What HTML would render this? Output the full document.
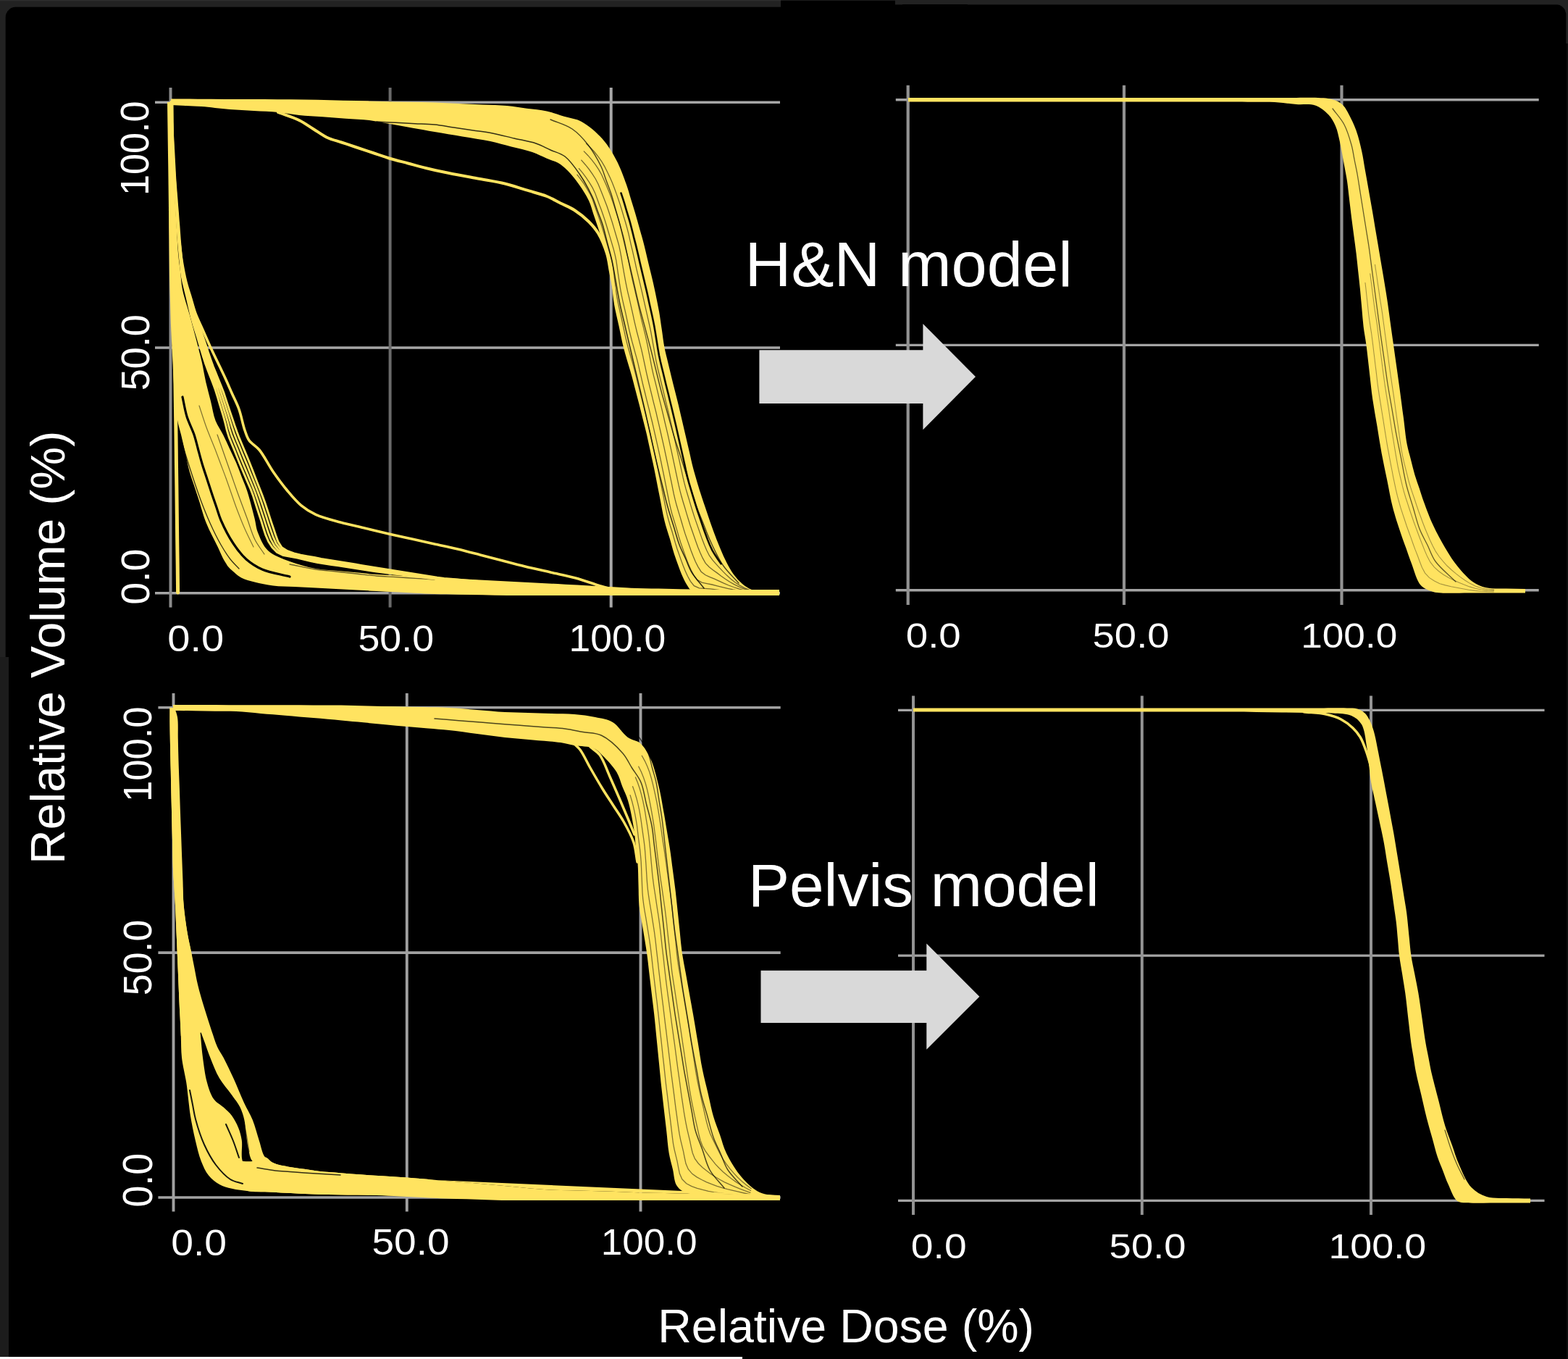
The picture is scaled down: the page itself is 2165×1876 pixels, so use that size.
<!DOCTYPE html>
<html><head><meta charset="utf-8"><title>DVH comparison</title>
<style>html,body{margin:0;padding:0;background:#000;overflow:hidden;}svg{display:block;}</style>
</head><body>
<svg width="2165" height="1876" viewBox="0 0 2165 1876">
<defs><filter id="soft" x="0" y="0" width="100%" height="100%" filterUnits="userSpaceOnUse"><feGaussianBlur stdDeviation="0.7"/></filter></defs>
<g filter="url(#soft)">
<rect x="0" y="0" width="2165" height="1876" fill="#000"/>
<rect x="0" y="0" width="1078" height="20" fill="#212121"/>
<rect x="0" y="0" width="20" height="908" fill="#212121"/>
<rect x="0" y="0" width="1078" height="1.5" fill="#2e2e2e"/>
<rect x="7.7" y="9.8" width="1200" height="1000" rx="14" fill="#000"/>
<rect x="0" y="907" width="12" height="966" fill="#1f1f1f"/>
<rect x="1236" y="0" width="929" height="20" fill="#212121"/>
<rect x="2145" y="0" width="20" height="60" fill="#212121"/>
<rect x="1078" y="0" width="158" height="1.2" fill="#1a1a1a"/>
<rect x="1236" y="6.3" width="926.3" height="200" rx="14" fill="#000"/>
<rect x="1236" y="6.3" width="100" height="200" fill="#000"/>
<rect x="2163" y="60" width="2" height="1816" fill="#101010"/>
<rect x="0" y="1873" width="1025" height="3" fill="#fff"/>
<line x1="214.0" y1="141.3" x2="1077.0" y2="141.3" stroke="#a6a6a6" stroke-width="3.4"/>
<line x1="214.0" y1="480.0" x2="1077.0" y2="480.0" stroke="#a6a6a6" stroke-width="3.4"/>
<line x1="214.0" y1="818.8" x2="1077.0" y2="818.8" stroke="#a6a6a6" stroke-width="3.4"/>
<line x1="235.5" y1="121.0" x2="235.5" y2="838.5" stroke="#8c8c8c" stroke-width="4.0"/>
<line x1="538.6" y1="121.0" x2="538.6" y2="838.5" stroke="#6a6a6a" stroke-width="4.0"/>
<line x1="843.7" y1="121.0" x2="843.7" y2="838.5" stroke="#a8a8a8" stroke-width="4.0"/>
<line x1="1236.8" y1="137.8" x2="2124.7" y2="137.8" stroke="#a4a4a4" stroke-width="3.4"/>
<line x1="1236.8" y1="476.4" x2="2124.7" y2="476.4" stroke="#a4a4a4" stroke-width="3.4"/>
<line x1="1236.8" y1="814.8" x2="2124.7" y2="814.8" stroke="#a4a4a4" stroke-width="3.4"/>
<line x1="1253.7" y1="117.7" x2="1253.7" y2="835.0" stroke="#929292" stroke-width="4.2"/>
<line x1="1552.0" y1="117.7" x2="1552.0" y2="835.0" stroke="#929292" stroke-width="4.2"/>
<line x1="1852.5" y1="117.7" x2="1852.5" y2="835.0" stroke="#929292" stroke-width="4.2"/>
<line x1="218.4" y1="976.8" x2="1077.7" y2="976.8" stroke="#a2a2a2" stroke-width="3.6"/>
<line x1="218.4" y1="1315.1" x2="1077.7" y2="1315.1" stroke="#a2a2a2" stroke-width="3.6"/>
<line x1="218.4" y1="1653.0" x2="1077.7" y2="1653.0" stroke="#a2a2a2" stroke-width="3.6"/>
<line x1="239.5" y1="957.0" x2="239.5" y2="1672.5" stroke="#a0a0a0" stroke-width="3.9"/>
<line x1="561.8" y1="957.0" x2="561.8" y2="1672.5" stroke="#a0a0a0" stroke-width="3.9"/>
<line x1="884.5" y1="957.0" x2="884.5" y2="1672.5" stroke="#a0a0a0" stroke-width="3.9"/>
<line x1="1240.0" y1="980.4" x2="2132.5" y2="980.4" stroke="#a4a4a4" stroke-width="3.4"/>
<line x1="1240.0" y1="1319.1" x2="2132.5" y2="1319.1" stroke="#a4a4a4" stroke-width="3.4"/>
<line x1="1240.0" y1="1657.4" x2="2132.5" y2="1657.4" stroke="#a4a4a4" stroke-width="3.4"/>
<line x1="1261.0" y1="960.6" x2="1261.0" y2="1677.0" stroke="#939393" stroke-width="4.0"/>
<line x1="1576.8" y1="960.6" x2="1576.8" y2="1677.0" stroke="#939393" stroke-width="4.0"/>
<line x1="1893.0" y1="960.6" x2="1893.0" y2="1677.0" stroke="#939393" stroke-width="4.0"/>
<text transform="translate(205.46,269.97) rotate(-90) scale(0.9341,1)" font-size="55.79" font-family="'Liberation Sans', sans-serif" fill="#fff">100.0</text>
<text transform="translate(205.75,539.36) rotate(-90) scale(0.9579,1)" font-size="56.36" font-family="'Liberation Sans', sans-serif" fill="#fff">50.0</text>
<text transform="translate(205.75,834.66) rotate(-90) scale(0.9832,1)" font-size="56.36" font-family="'Liberation Sans', sans-serif" fill="#fff">0.0</text>
<text transform="translate(231.31,898.50) scale(1.1018,1)" font-size="50.85" font-family="'Liberation Sans', sans-serif" fill="#fff">0.0</text>
<text transform="translate(494.45,898.50) scale(1.0575,1)" font-size="50.85" font-family="'Liberation Sans', sans-serif" fill="#fff">50.0</text>
<text transform="translate(785.53,899.00) scale(1.0368,1)" font-size="51.55" font-family="'Liberation Sans', sans-serif" fill="#fff">100.0</text>
<text transform="translate(1250.77,893.72) scale(1.1183,1)" font-size="48.87" font-family="'Liberation Sans', sans-serif" fill="#fff">0.0</text>
<text transform="translate(1508.62,893.72) scale(1.1134,1)" font-size="48.87" font-family="'Liberation Sans', sans-serif" fill="#fff">50.0</text>
<text transform="translate(1796.25,893.72) scale(1.0878,1)" font-size="48.87" font-family="'Liberation Sans', sans-serif" fill="#fff">100.0</text>
<text transform="translate(209.25,1107.00) rotate(-90) scale(0.9345,1)" font-size="56.21" font-family="'Liberation Sans', sans-serif" fill="#fff">100.0</text>
<text transform="translate(209.25,1374.15) rotate(-90) scale(0.9556,1)" font-size="56.21" font-family="'Liberation Sans', sans-serif" fill="#fff">50.0</text>
<text transform="translate(209.75,1666.50) rotate(-90) scale(0.9450,1)" font-size="56.78" font-family="'Liberation Sans', sans-serif" fill="#fff">0.0</text>
<text transform="translate(236.24,1732.71) scale(1.0928,1)" font-size="50.56" font-family="'Liberation Sans', sans-serif" fill="#fff">0.0</text>
<text transform="translate(513.50,1732.21) scale(1.0919,1)" font-size="50.42" font-family="'Liberation Sans', sans-serif" fill="#fff">50.0</text>
<text transform="translate(829.65,1732.21) scale(1.0542,1)" font-size="50.42" font-family="'Liberation Sans', sans-serif" fill="#fff">100.0</text>
<text transform="translate(1257.84,1736.72) scale(1.1340,1)" font-size="48.73" font-family="'Liberation Sans', sans-serif" fill="#fff">0.0</text>
<text transform="translate(1531.62,1736.72) scale(1.1167,1)" font-size="48.73" font-family="'Liberation Sans', sans-serif" fill="#fff">50.0</text>
<text transform="translate(1834.39,1736.72) scale(1.1064,1)" font-size="48.73" font-family="'Liberation Sans', sans-serif" fill="#fff">100.0</text>
<path d="M236,141C236.4,153.1 236.9,165.2 237.3,177.3C237.8,189.4 238.2,201.6 238.7,213.7C239.1,225.8 239.4,238.2 240,250C240.5,261.4 241.3,272.2 242,283.3C242.7,294.4 243.3,305.6 244,316.7C244.7,327.8 245.1,339.7 246,350C246.8,358.9 248,366.7 249,375C250,383.3 250.2,391.1 252,400C254.1,410.4 258.8,423.7 261.5,433.5C263.6,441 265.1,446.9 266.9,453.6C268.6,460.3 270.3,466.5 272.2,473.7C274.3,482 276.9,491.5 278.9,500.5C280.9,509.4 282.2,518.4 284.2,527.3C286.2,536.2 288.8,545.1 291,554C293.2,562.9 294.5,572.8 297.6,580.8C300.4,587.9 304.7,593.5 308,600C311.2,606.4 314,612.8 317,619.2C320,625.7 323.2,632 326,638.5C328.7,644.9 331,651.3 333.5,657.8C336,664.2 338.5,669.4 341,677C344.5,687.6 348.8,704.8 351.5,715.5C353.4,723.1 353.4,728.3 356,735C359.1,743 363.1,753.4 370,760C377.4,767.1 389.3,770.9 400,775C411.3,779.3 424.7,782.9 436,785C445.8,786.8 454.7,786.8 464,787.7C473.3,788.6 482.7,789.4 492,790.3C501.3,791.2 509.9,792.3 520,793C531.7,793.9 545.3,794.3 558,795C570.7,795.7 583.3,796.3 596,797C608.7,797.7 621.3,798.3 634,799C646.7,799.7 659.3,800.3 672,801C684.7,801.7 697.3,802.3 710,803C722.7,803.7 735.8,804.4 748,805C759.4,805.6 770,806.2 781,806.8C792,807.3 803,807.9 814,808.5C825,809.1 836,809.7 847,810.2C858,810.8 868.5,811.6 880,812C892.5,812.5 906.1,812.5 919.2,812.8C932.3,813.1 945.3,813.3 958.4,813.6C971.5,813.9 984.5,814.1 997.6,814.4C1010.7,814.7 1023.7,814.9 1036.8,815.2C1049.9,815.5 1062.9,815.7 1076,816L1076,822C1062.9,822 1049.9,822 1036.8,822C1023.7,822 1010.7,822 997.6,822C984.5,822 971.5,822 958.4,822C945.3,822 932.3,822 919.2,822C906.1,822 892.8,822 880,822C867.7,822 856,822 844,822C832,822 820,822 808,822C796,822 784,822 772,822C760,822 748,822 736,822C724,822 711.8,822.1 700,822C688.7,821.9 677.8,821.6 666.7,821.3C655.6,821.1 644.4,820.9 633.3,820.7C622.2,820.4 610.5,820.4 600,820C590.6,819.7 582.2,819.1 573.3,818.7C564.4,818.2 555.6,817.8 546.7,817.3C537.8,816.9 529,816.5 520,816C510.8,815.5 501.3,815 492,814.5C482.7,814 473.3,813.5 464,813C454.7,812.5 445.4,812 436,811.5C426.3,811 416.4,810.5 406.6,810C396.8,809.5 386.6,809.7 377.2,808.5C368.3,807.4 359.2,805.5 351.5,803.5C344.9,801.8 338.6,800.3 333.6,797.7C329.5,795.6 326.6,792.9 323.3,790C319.8,786.9 316.3,784.2 313,779.7C308.4,773.3 304.6,763.1 300.2,754C295.3,743.9 289.1,732.8 284.8,722C280.6,711.5 277.5,699.3 274.5,690C272.1,682.7 270.2,677 268.1,670.5C266,664 263.6,658 261.7,651C259.5,643.1 257.8,634 255.8,625.5C253.9,617 251.9,608 250,600C248.3,592.9 246.2,587.1 245,580C243.6,572.2 243.3,563.3 242.5,555C241.7,546.7 240.6,538.5 240,530C239.3,521.3 239.1,512.2 238.7,503.3C238.2,494.4 237.8,485.6 237.3,476.7C236.9,467.8 236.4,459.5 236,450C235.6,439.1 235.3,426.7 235,415C234.7,403.3 234.2,391.5 234,380C233.8,369 233.8,358.3 233.6,347.5C233.5,336.7 233.4,325.8 233.2,315C233.1,304.2 233,293.3 232.9,282.5C232.8,271.7 232.6,261.1 232.5,250C232.4,238.2 232.2,225.8 232,213.7C231.8,201.6 231.7,189.4 231.5,177.3C231.3,165.2 231.2,153.1 231,141Z" fill="#ffe360"/>
<path d="M252,548C254,557 255.3,566.3 258,575C260.7,583.6 265.3,592.1 268,600C270.3,607 271.7,613.3 273.5,620C275.3,626.7 277,633.4 279,640C281,646.7 283.3,653.3 285.5,660C287.7,666.7 289.8,673.4 292,680C294.1,686.4 296.3,692.7 298.5,699C300.7,705.3 302,711 305,718C309.1,727.4 315.7,740.6 322,750C327.5,758.3 333.2,765.9 340,772C346.6,777.8 353.3,782.2 362,786C372.6,790.7 387.3,792.7 400,796" fill="none" stroke="#000" stroke-width="3.20" stroke-linejoin="round" stroke-linecap="round" stroke-opacity="1.00"/>
<path d="M246,590C248.7,600 251,609.6 254,620C257.3,631.3 261.2,643.4 265,655C268.8,666.7 272.8,678.7 277,690C281.1,701 285.3,711.6 290,722C294.6,732.3 299.9,743.1 305,752C309.3,759.5 313.5,766.2 318,772C321.9,777 326,780.7 330,785" fill="none" stroke="#000" stroke-width="1.30" stroke-linejoin="round" stroke-linecap="round" stroke-opacity="0.80"/>
<path d="M243,600C245.3,610.7 247.2,621.3 250,632C252.9,643 256.4,653.9 260,665C263.7,676.5 267.5,688.4 272,700C276.5,711.8 281.9,724.2 287,735C291.6,744.7 296.3,754 301,762C305,768.7 309,774 313,780" fill="none" stroke="#000" stroke-width="1.20" stroke-linejoin="round" stroke-linecap="round" stroke-opacity="0.60"/>
<path d="M275,560C278.3,570 281.4,580.1 285,590C288.7,600.1 293.5,611 297,620C299.8,627.3 302,633.3 304.5,640C307,646.7 309.6,653.3 312,660C314.4,666.7 316.7,673.3 319,680C321.3,686.7 323.3,692.7 326,700C329.4,709 333.8,720.5 338,730C341.9,738.8 346,746.7 350,755" fill="none" stroke="#000" stroke-width="1.20" stroke-linejoin="round" stroke-linecap="round" stroke-opacity="0.50"/>
<path d="M300,600C302.3,606.7 304.7,613.3 307,620C309.3,626.7 311.7,633.3 314,640C316.3,646.7 318.7,653.3 321,660C323.3,666.7 325.3,672.4 328,680C331.6,690.1 336.9,703.8 341,715C344.8,725.4 347.6,736.2 352,745C355.8,752.6 360.7,758.3 365,765" fill="none" stroke="#000" stroke-width="1.20" stroke-linejoin="round" stroke-linecap="round" stroke-opacity="0.55"/>
<path d="M400,779C412,781.3 424.7,784.3 436,786C445.9,787.5 454.7,788 464,789C473.3,790 482.7,791 492,792C501.3,793 510.8,794.2 520,795C529,795.8 537.8,796.1 546.7,796.7C555.6,797.2 564.4,797.8 573.3,798.3C582.2,798.9 591.1,799.4 600,800" fill="none" stroke="#000" stroke-width="1.30" stroke-linejoin="round" stroke-linecap="round" stroke-opacity="0.60"/>
<path d="M236,141 L236.4,150.6 L236.9,160.3 L237.3,169.9 L237.8,179.5 L238.2,189.2 L238.7,198.8 L239.1,208.4 L239.5,218.1 L239.9,227.7 L240.4,237.3 L240.8,247 L241.4,256.6 L242,266.2 L242.7,275.8 L243.4,285.4 L244,295.1 L244.6,304.7 L245.3,314.3 L245.9,323.9 L246.5,333.6 L247.3,343.2 L248.2,352.8 L249.2,362.4 L250,372 L251.3,381.5 L253.3,391 L255.6,400.3 L257.9,409.7 L260.1,419.1 L262.2,428.5 L264.4,437.9 L267,447.2 L269.8,456.4 L272.7,465.6 L275.4,474.8 L278.1,484.1 L280.9,493.3 L283.9,502.5 L287.2,511.5 L290.7,520.5 L294.2,529.5 L297.5,538.6 L300.4,547.8 L303.1,557 L305.9,566.3 L308.7,575.5 L311.2,584.8 L313.4,594.2 L316.2,603.4 L319.8,612.3 L323.5,621.2 L327.1,630.2 L330.7,639.2 L334.4,648 L338.2,656.9 L342,665.8 L345.9,674.6 L349.3,683.6 L352.2,692.8 L355.1,702 L358.1,711.2 L361.1,720.3 L363.9,729.5 L366.9,738.7 L370.7,747.5 L376,755.6 L382.7,762.5 L391.4,766.6 L400.9,768.4 L410.4,770 L419.7,772.3 L429.1,774.5 L438.6,776.5 L448.1,778 L457.6,779.4 L467.2,780.8 L476.7,782.3 L486.2,783.8 L495.7,785.3 L505.3,786.8 L514.8,788.2 L524.3,789.6 L533.9,790.8 L543.5,791.9 L553.1,793.1 L562.6,794.3 L572.2,795.5 L581.8,796.6 L591.3,797.9 L600.9,799.1 L610.5,800.2 L620.1,801.1 L629.7,801.9 L639.3,802.7 L648.9,803.5 L658.5,804.4 L668.1,805.2 L677.7,806.1 L687.3,807 L696.9,807.8 L706.6,808.4 L716.2,808.7 L725.8,809.1 L735.5,809.4 L745.1,809.8 L754.7,810.1 L764.4,810.5 L774,810.9 L783.6,811.3 L793.3,811.6 L802.9,812 L812.6,812.4 L822.2,812.8 L831.8,813.1 L841.5,813.5 L851.1,813.9 L860.7,814.3 L870.4,814.6 L880,815 M236,141 L236.5,150.6 L236.9,160.2 L237.4,169.8 L237.9,179.4 L238.3,189 L238.8,198.6 L239.3,208.2 L239.8,217.8 L240.2,227.4 L240.6,237 L241.1,246.6 L241.7,256.2 L242.4,265.8 L243.1,275.4 L243.8,285 L244.5,294.5 L245.1,304.1 L245.8,313.7 L246.4,323.3 L247.1,332.9 L247.9,342.5 L248.8,352 L249.8,361.6 L250.6,371.2 L251.8,380.7 L253.9,390.1 L256.5,399.3 L259.1,408.6 L261.4,417.9 L263.8,427.2 L266.3,436.5 L269,445.7 L271.8,454.9 L274.8,464 L277.6,473.2 L280.4,482.4 L283.2,491.6 L286.2,500.7 L289.6,509.7 L293.1,518.7 L296.6,527.6 L300.1,536.6 L303.1,545.7 L306,554.9 L308.8,564 L311.7,573.2 L314.4,582.4 L316.8,591.7 L319.7,600.9 L323.3,609.8 L327,618.7 L330.6,627.6 L334.2,636.5 L337.9,645.4 L341.6,654.2 L345.3,663.1 L349,672 L352.5,680.9 L355.6,690 L358.6,699.1 L361.6,708.3 L364.6,717.4 L367.5,726.6 L370.5,735.7 L374,744.6 L378.6,753 L384.8,760.2 L393.3,764.6 L402.6,766.9 L412,768.7 L421.4,770.8 L430.8,772.9 L440.2,774.8 L449.7,776.3 L459.2,777.7 L468.7,779.2 L478.2,780.7 L487.7,782.2 L497.2,783.7 L506.6,785.3 L516.1,786.8 L525.6,788.2 L535.2,789.5 L544.7,790.7 L554.2,792 L563.7,793.3 L573.3,794.5 L582.8,795.8 L592.3,797.2 L601.8,798.5 L611.4,799.6 L620.9,800.5 L630.5,801.3 L640.1,802.1 L649.7,802.9 L659.3,803.8 L668.8,804.6 L678.4,805.5 L688,806.4 L697.5,807.2 L707.1,807.7 L716.7,808.1 L726.3,808.5 L736,808.8 L745.6,809.2 L755.2,809.6 L764.8,810 L774.4,810.4 L784,810.8 L793.6,811.1 L803.2,811.5 L812.8,811.9 L822.4,812.3 L832,812.7 L841.6,813.1 L851.2,813.5 L860.8,813.9 L870.4,814.3 L880,814.7 M236,141 L236.5,150.6 L237,160.1 L237.5,169.7 L238,179.3 L238.5,188.8 L239,198.4 L239.5,208 L240,217.5 L240.4,227.1 L240.9,236.7 L241.4,246.2 L242.1,255.8 L242.8,265.3 L243.5,274.9 L244.2,284.5 L244.9,294 L245.6,303.6 L246.3,313.1 L247,322.7 L247.7,332.2 L248.5,341.8 L249.4,351.3 L250.4,360.8 L251.1,370.4 L252.3,379.9 L254.6,389.2 L257.3,398.3 L260.2,407.5 L262.8,416.7 L265.5,425.9 L268.1,435.1 L270.9,444.2 L273.9,453.4 L276.9,462.5 L279.8,471.6 L282.7,480.7 L285.6,489.8 L288.6,498.9 L292,507.9 L295.5,516.8 L299.1,525.7 L302.6,534.6 L305.8,543.6 L308.8,552.7 L311.7,561.8 L314.7,571 L317.5,580.1 L320.3,589.3 L323.3,598.3 L326.8,607.3 L330.5,616.1 L334.1,625 L337.8,633.8 L341.5,642.7 L345,651.5 L348.6,660.4 L352.2,669.3 L355.7,678.2 L359,687.2 L362.1,696.3 L365.1,705.4 L368.1,714.5 L371,723.6 L374.1,732.7 L377.3,741.7 L381.2,750.3 L386.9,757.9 L395.2,762.7 L404.3,765.5 L413.6,767.4 L423,769.4 L432.4,771.3 L441.8,773.1 L451.3,774.6 L460.7,776.1 L470.2,777.6 L479.7,779.1 L489.1,780.7 L498.6,782.2 L508,783.8 L517.5,785.3 L526.9,786.7 L536.4,788.1 L545.9,789.5 L555.4,790.9 L564.9,792.2 L574.3,793.6 L583.8,795 L593.3,796.5 L602.8,797.9 L612.3,799 L621.8,799.9 L631.4,800.7 L640.9,801.5 L650.4,802.3 L660,803.1 L669.5,804 L679.1,804.9 L688.6,805.8 L698.2,806.5 L707.7,807.1 L717.3,807.5 L726.9,807.9 L736.4,808.2 L746,808.6 L755.6,809 L765.1,809.4 L774.7,809.9 L784.3,810.3 L793.9,810.7 L803.4,811.1 L813,811.5 L822.6,811.9 L832.1,812.3 L841.7,812.7 L851.3,813.1 L860.9,813.5 L870.4,813.9 L880,814.3 M236,141 L236.5,150.5 L237,160.1 L237.6,169.6 L238.1,179.1 L238.6,188.7 L239.1,198.2 L239.7,207.7 L240.2,217.3 L240.7,226.8 L241.2,236.3 L241.7,245.9 L242.4,255.4 L243.1,264.9 L243.9,274.4 L244.6,284 L245.4,293.5 L246.1,303 L246.9,312.5 L247.6,322 L248.3,331.6 L249.1,341.1 L250,350.6 L251,360.1 L251.7,369.6 L252.8,379.1 L255.2,388.3 L258.2,397.4 L261.3,406.4 L264.2,415.5 L267.1,424.6 L270,433.7 L272.9,442.8 L275.9,451.8 L278.9,460.9 L282,469.9 L285,479 L287.9,488.1 L291,497.1 L294.3,506.1 L297.9,514.9 L301.5,523.8 L305.1,532.6 L308.6,541.5 L311.6,550.6 L314.6,559.6 L317.6,568.7 L320.7,577.7 L323.7,586.8 L326.9,595.8 L330.3,604.7 L334,613.5 L337.7,622.3 L341.4,631.1 L345,640 L348.5,648.9 L351.9,657.8 L355.4,666.7 L358.9,675.6 L362.3,684.4 L365.6,693.4 L368.6,702.5 L371.6,711.6 L374.5,720.6 L377.6,729.7 L380.6,738.7 L383.9,747.7 L389,755.7 L397,760.7 L406,764 L415.3,766.2 L424.7,767.9 L434.1,769.6 L443.5,771.4 L452.9,772.9 L462.3,774.4 L471.7,776 L481.2,777.5 L490.6,779.1 L500,780.7 L509.4,782.3 L518.8,783.8 L528.3,785.3 L537.7,786.8 L547.1,788.3 L556.5,789.7 L566,791.2 L575.4,792.7 L584.8,794.2 L594.3,795.8 L603.7,797.3 L613.2,798.5 L622.7,799.3 L632.2,800.1 L641.7,800.9 L651.2,801.7 L660.7,802.5 L670.2,803.4 L679.7,804.3 L689.3,805.2 L698.8,805.9 L708.3,806.5 L717.8,806.9 L727.4,807.2 L736.9,807.6 L746.5,808.1 L756,808.5 L765.5,808.9 L775.1,809.3 L784.6,809.8 L794.2,810.2 L803.7,810.6 L813.2,811 L822.8,811.5 L832.3,811.9 L841.8,812.3 L851.4,812.7 L860.9,813.2 L870.5,813.6 L880,814" fill="none" stroke="#ffe360" stroke-width="3.00" stroke-linejoin="round" stroke-linecap="round"/>
<path d="M236,141C236.4,150.2 236.8,159.4 237.2,168.7C237.6,177.9 237.9,187.1 238.3,196.3C238.7,205.6 239,214.4 239.5,224C240.1,234.3 240.9,245.3 241.7,256C242.4,266.7 243.1,277.3 243.8,288C244.6,298.7 245.1,310.6 246,320C246.7,327.5 247.7,333.3 248.5,340C249.3,346.7 249.8,352.7 251,360C252.5,369 254.7,380.9 257,390C259,397.8 261.3,404.3 263.5,411.5C265.7,418.7 267.3,425.8 270,433C272.8,440.5 276.7,448 280,455.5C283.3,463 286.6,470.6 290,478C293.4,485.4 297,492.7 300.5,500C304,507.3 307.6,514.7 311,522C314.3,529.2 317.3,536.3 320.5,543.5C323.7,550.7 327.2,557.2 330,565C333.2,573.8 335.2,586.1 338,594C340,599.6 341,603.7 344,608C347.4,612.8 353.3,615.4 358,621C364.4,628.6 370.4,641.5 377,651C383.3,660.1 389.8,669 396.5,677C402.7,684.4 408.8,691.9 415.7,697.6C422.1,702.9 428.1,706.7 436,710.4C445.6,714.8 458.6,717.9 470,721C481.4,724.1 493,726.5 504.5,729.2C516,732 527.8,734.9 539,737.5C549.6,739.9 559.7,742.1 570,744.3C580.3,746.6 590.7,748.9 601,751.2C611.3,753.4 621.7,755.5 632,758C642.4,760.5 652.7,763.3 663,766C673.3,768.7 683.7,771.3 694,774C704.3,776.7 714.3,779.4 725,782C736.3,784.7 748.3,787.3 760,790C771.7,792.7 783.5,794.8 795,798C806.5,801.2 819.7,806.3 829,809C835.3,810.8 838.6,811.9 845,813C854.4,814.6 868.3,815 880,816" fill="none" stroke="#ffe360" stroke-width="3.60" stroke-linejoin="round" stroke-linecap="round"/>
<path d="M237,141C237.1,153.3 237.3,165.7 237.4,178C237.6,190.3 237.7,202.7 237.9,215C238,227.3 238.1,239.7 238.3,252C238.4,264.3 238.6,276.7 238.7,289C238.9,301.3 239,313.7 239.1,326C239.3,338.3 239.4,350.7 239.6,363C239.7,375.3 239.8,388 240,400C240.2,411.4 240.3,422.2 240.5,433.3C240.7,444.4 240.8,455.6 241,466.7C241.2,477.8 241.3,488.9 241.5,500C241.7,511.1 241.8,522.2 242,533.3C242.2,544.4 242.3,555.6 242.5,566.7C242.7,577.8 242.8,588.6 243,600C243.2,611.9 243.3,624.2 243.4,636.3C243.6,648.4 243.7,660.6 243.9,672.7C244,684.8 244.2,696.9 244.3,709C244.4,721.1 244.6,733.2 244.7,745.3C244.9,757.4 245,769.6 245.2,781.7C245.3,793.8 245.5,805.9 245.6,818" fill="none" stroke="#ffe360" stroke-width="5.00" stroke-linejoin="round" stroke-linecap="round"/>
<path d="M236,136.5C248.3,136.6 260.5,136.6 272.8,136.7C285.1,136.8 297.3,136.8 309.6,136.9C321.9,137 334.1,137 346.4,137.1C358.7,137.2 370.9,137.2 383.2,137.3C395.5,137.4 407.8,137.3 420,137.5C432.1,137.7 444,138 456,138.3C468,138.6 480,138.8 492,139.1C504,139.4 516,139.6 528,139.9C540,140.2 552,140.4 564,140.7C576,141 588.2,141.1 600,141.5C611.3,141.9 622.2,142.5 633.3,143C644.4,143.5 655.6,144 666.7,144.5C677.8,145 689.4,145 700,146C709.6,146.9 718.3,148.5 727.5,149.8C736.7,151 746.2,151.6 755,153.5C763.3,155.3 771,158.3 779,160.8C787,163.2 795,163.7 803,168C812.7,173.2 823.9,182.9 832,192C839.8,200.7 845.6,210.7 851,221C856.6,231.6 861.5,245.2 865,255C867.6,262.3 869,268 871,274.5C873,281 875.1,287.5 877,294C878.9,300.5 880.7,307 882.5,313.5C884.3,320 886.1,325.8 888,333C890.3,341.7 892.7,352.3 895,362C897.3,371.7 899.7,380.6 902,391C904.7,403 907.9,418.4 910,430C911.6,439.2 912.5,446.7 913.8,455C915,463.3 916,472.2 917.5,480C918.9,487.1 920.7,493.3 922.2,500C923.8,506.7 925.4,513.3 927,520C928.6,526.7 930.3,533.3 932,540C933.7,546.7 935.4,553.2 937,560C938.7,567 940.3,574.3 942,581.5C943.7,588.7 945.3,595.8 947,603C948.7,610.2 950.3,617.3 952,624.5C953.7,631.7 954.9,638 957,646C959.7,656.1 963.7,669.3 967,680C970,689.5 973,698.1 976,707C979,715.8 981.9,724.6 985,733C987.9,740.9 990.9,748.6 994,756C996.9,762.9 999.7,769.7 1003,776C1006.1,782 1009.2,787.9 1013,793C1016.6,797.8 1020.7,802.4 1025,806C1029,809.3 1033.2,812.2 1038,814C1043.1,815.9 1049,816.4 1055,817C1061.6,817.7 1069,817.3 1076,817.5L1076,818.5C1063.3,818.5 1050.7,818.5 1038,818.5C1025.3,818.5 1010.9,818.7 1000,818.5C991.8,818.4 985.7,818 978.5,817.8C971.3,817.5 962.4,819.6 957,817C952.4,814.7 950.3,810.4 947,805C941.8,796.3 935.9,779.2 932,768C928.9,759.1 927.2,751.7 924.8,743.5C922.3,735.3 919.7,728 917.5,719C914.8,708.1 912.7,694.7 910.2,682.5C907.8,670.3 905.2,656.8 903,646C901.2,637.4 899.7,630.7 898,623C896.3,615.3 894.7,607.4 893,600C891.4,593.1 889.7,586.7 888,580C886.3,573.3 884.7,566.7 883,560C881.2,553.1 879.3,546 877.5,539C875.7,532 874.2,526 872,518C869,507.2 864,492 861,480C858.3,469.5 856.7,460 854.5,450C852.3,440 849.6,429.5 848,420C846.6,411.5 846,403.7 845,395.5C844,387.3 843.8,379.9 842,371C839.8,360.1 835,345.2 832,335C829.8,327.3 828.1,321.6 826,315C823.9,308.6 821.7,302.3 819.5,296C817.3,289.7 816.3,283.9 813,277C808.5,267.7 800.1,254.8 793,246C787,238.5 780.8,231.7 774,227C767.9,222.8 761,221.3 754.5,218.5C748,215.7 742.3,212.5 735,210C726.4,207 715.7,205 706,202.5C696.3,200 687.4,197.2 677,195C665.1,192.5 651.3,190.7 638.5,188.5C625.7,186.3 612,184.1 600,182C589.4,180.2 580,178.4 570,176.7C560,174.9 550,173.1 540,171.3C530,169.6 520.2,167.3 510,166C499.5,164.7 488.4,164.4 477.7,163.7C466.9,162.9 456.1,162.1 445.3,161.3C434.6,160.6 423.5,160.1 413,159C403.1,158 394,156 384,155C373.3,153.9 361.7,153.7 350.5,153C339.3,152.3 328.6,151.9 317,151C304.5,150 289,147.8 278,147C269.9,146.4 264,146.3 257,146C250,145.7 243,145.3 236,145Z" fill="#ffe360"/>
<path d="M809.4,198.1 L815.2,203.8 L820.8,209.8 L825.9,216.1 L830.7,222.8 L834.8,229.9 L838.5,237.2 L842,244.6 L845.3,252.1 L848.3,259.7 L851.1,267.4 L853.8,275.1 L856.4,282.9 L858.8,290.8 L861.1,298.6 L863.5,306.5 L865.7,314.4 L867.8,322.3 L869.6,330.3 L871.4,338.3 L873.3,346.2 L875.1,354.2 L876.9,362.2 L878.6,370.2 L880.5,378.2 L882.4,386.2 L884.3,394.2 L886.2,402.2 L888,410.2 L889.8,418.2 L891.6,426.2 L893.4,434.2 L895.2,442.2 L897,450.2 L898.7,458.2 L900.2,466.3 L901.6,474.3 L903.1,482.4 L904.5,490.5 L906,498.5 L907.7,506.6 L909.6,514.5 L911.6,522.5 L913.5,530.5 L915.5,538.5 L917.4,546.4 L919.3,554.4 L921.3,562.4 L923.2,570.4 L925.1,578.3 L927,586.3 L928.8,594.3 L930.6,602.3 L932.4,610.4 L934.1,618.4 L935.9,626.4 L937.7,634.4 L939.4,642.4 L941.2,650.4 L942.9,658.4 L944.8,666.4 L946.9,674.4 L949.2,682.2 L951.6,690.1 L953.9,698 L956.3,705.8 L958.8,713.6 L961.5,721.4 L964.2,729.1 L966.9,736.9 L969.6,744.6 L972.6,752.3 L975.8,759.8 L979.4,767 L983.9,773.2 L988.5,778.4 L993.3,783.6 L998.2,788.9 L1003.4,794.1 L1008.8,799.1 L1014.8,803.7 L1021.1,807.9 L1028,811.6 L1035.4,814.6 M806.3,208.9 L811.9,214.7 L817.2,220.9 L822.2,227.4 L826.7,234.2 L830.7,241.3 L834.1,248.7 L837.3,256.1 L840.5,263.7 L843.5,271.3 L846.2,279 L848.8,286.8 L851.3,294.6 L853.7,302.4 L856,310.3 L858.3,318.1 L860.6,326 L862.5,334 L864.1,342 L865.7,350 L867.4,357.9 L869,365.9 L870.6,374 L872.3,382 L874.1,390 L876,397.9 L877.8,405.9 L879.7,413.9 L881.5,421.9 L883.2,429.9 L885,437.9 L886.9,445.8 L888.9,453.8 L890.8,461.7 L892.6,469.7 L894.3,477.7 L895.8,485.7 L897.4,493.7 L898.9,501.8 L900.5,509.8 L902.3,517.8 L904.3,525.7 L906.3,533.7 L908.2,541.6 L910.1,549.6 L912.1,557.5 L914,565.5 L915.9,573.5 L917.7,581.5 L919.6,589.4 L921.5,597.4 L923.3,605.4 L925,613.4 L926.8,621.4 L928.5,629.4 L930.2,637.4 L931.9,645.4 L933.6,653.4 L935.3,661.4 L937,669.4 L938.9,677.4 L941,685.3 L943.3,693.2 L945.7,701 L948,708.9 L950.4,716.7 L952.8,724.5 L955.5,732.3 L958.2,740 L960.9,747.7 L963.7,755.4 L966.8,763 L970.2,770.4 L974.1,777.4 L979.2,782.8 L984.6,786.9 L990.1,790.9 L995.8,795.2 L1001.5,799.3 L1007.6,803.2 L1014,806.9 L1020.7,810.2 L1027.8,813.1 L1035.4,815.4 M802.8,221.1 L808.1,227.2 L813.2,233.5 L817.9,240.1 L822.3,247 L826,254.2 L829.1,261.7 L832.1,269.3 L835.1,276.9 L838,284.5 L840.6,292.2 L843.1,300 L845.6,307.8 L847.9,315.6 L850.2,323.5 L852.5,331.3 L854.7,339.2 L856.4,347.2 L857.9,355.2 L859.2,363.2 L860.6,371.2 L862,379.2 L863.5,387.3 L865.1,395.3 L866.8,403.3 L868.7,411.2 L870.5,419.2 L872.3,427.1 L874.1,435.1 L875.8,443.1 L877.7,451.1 L879.6,459 L881.7,466.9 L883.7,474.8 L885.7,482.7 L887.5,490.6 L889.2,498.6 L890.9,506.6 L892.6,514.6 L894.4,522.5 L896.3,530.5 L898.2,538.4 L900.2,546.3 L902.1,554.3 L904.1,562.2 L906.1,570.1 L907.9,578.1 L909.8,586.1 L911.6,594 L913.4,602 L915.2,609.9 L917,617.9 L918.7,625.9 L920.4,633.9 L922.1,641.9 L923.8,649.9 L925.4,657.9 L927.1,665.9 L928.7,673.9 L930.3,681.9 L932.2,689.9 L934.3,697.8 L936.6,705.6 L939,713.4 L941.3,721.2 L943.6,729.1 L946,736.9 L948.7,744.6 L951.4,752.3 L954.1,760 L957,767.6 L960.2,775.2 L963.8,782.4 L968.1,789.2 L974,793.8 L980.2,796.6 L986.5,799.2 L992.9,802.2 L999.4,805.2 L1006.1,808 L1013,810.5 L1020.2,812.8 L1027.7,814.8 L1035.4,816.4 M799.4,232.6 L804.6,238.8 L809.4,245.4 L813.9,252.1 L818.1,259.1 L821.6,266.4 L824.4,274 L827.2,281.7 L830.1,289.3 L832.8,297 L835.4,304.7 L837.8,312.5 L840.1,320.3 L842.5,328.1 L844.8,335.9 L847.1,343.7 L849.1,351.6 L850.8,359.6 L852,367.6 L853.1,375.7 L854.3,383.7 L855.5,391.8 L856.8,399.8 L858.3,407.8 L860,415.8 L861.8,423.7 L863.7,431.7 L865.4,439.6 L867.1,447.6 L868.8,455.6 L870.7,463.5 L872.7,471.4 L874.9,479.2 L877,487.1 L879.2,494.9 L881.2,502.8 L883,510.8 L884.9,518.7 L886.7,526.6 L888.6,534.5 L890.6,542.5 L892.5,550.4 L894.5,558.3 L896.5,566.2 L898.4,574.1 L900.4,582 L902.2,589.9 L904,597.9 L905.8,605.9 L907.6,613.8 L909.4,621.8 L911.1,629.7 L912.8,637.7 L914.4,645.7 L916.1,653.7 L917.7,661.7 L919.3,669.6 L920.9,677.6 L922.5,685.6 L924.1,693.6 L925.9,701.6 L927.9,709.5 L930.3,717.3 L932.7,725.1 L935,732.9 L937.2,740.7 L939.6,748.5 L942.3,756.2 L945,763.9 L947.8,771.6 L950.7,779.1 L954,786.6 L957.8,793.8 L962.5,800.3 L969.1,804.1 L976.1,805.6 L983.2,807 L990.3,808.9 L997.5,810.7 L1004.7,812.4 L1012.2,813.9 L1019.8,815.2 L1027.5,816.3 L1035.4,817.3 M796.9,241.2 L801.9,247.6 L806.6,254.2 L810.9,261.1 L815,268.1 L818.3,275.6 L820.9,283.3 L823.5,290.9 L826.3,298.6 L828.9,306.3 L831.4,314 L833.8,321.8 L836.1,329.6 L838.4,337.4 L840.7,345.2 L843,353 L845,360.9 L846.5,368.9 L847.6,376.9 L848.5,385 L849.6,393.1 L850.6,401.1 L851.7,409.2 L853.2,417.2 L854.9,425.2 L856.7,433.1 L858.5,441 L860.2,449 L861.9,456.9 L863.6,464.9 L865.5,472.8 L867.6,480.7 L869.8,488.5 L872.1,496.3 L874.3,504.1 L876.4,512 L878.4,519.9 L880.3,527.8 L882.3,535.7 L884.3,543.5 L886.3,551.4 L888.3,559.3 L890.2,567.2 L892.2,575.1 L894.2,583 L896.1,590.9 L898,598.8 L899.7,606.8 L901.4,614.7 L903.2,622.7 L905,630.6 L906.7,638.6 L908.3,646.5 L909.9,654.5 L911.5,662.5 L913.1,670.5 L914.7,678.5 L916.3,686.4 L917.8,694.4 L919.4,702.4 L921.1,710.4 L923.2,718.2 L925.5,726 L928,733.8 L930.2,741.6 L932.4,749.4 L934.8,757.2 L937.5,764.9 L940.2,772.6 L943,780.2 L946,787.8 L949.4,795.2 L953.3,802.3 L958.3,808.6 L965.4,811.8 L973,812.4 L980.6,812.9 L988.3,813.9 L996,814.9 L1003.7,815.8 L1011.5,816.5 L1019.4,817 L1027.4,817.5 L1035.4,817.9" fill="none" stroke="#000" stroke-width="1.30" stroke-opacity="0.55" stroke-linecap="round"/>
<path d="M857.5,266.6 L860.1,274.3 L862.5,282.2 L864.8,290.1 L867.2,298 L869.6,305.8 L871.7,313.8 L873.7,321.7 L875.6,329.7 L877.7,337.6 L879.6,345.6 L881.5,353.6 L883.3,361.6 L885.2,369.6 L887.1,377.6 L889,385.6 L890.9,393.6 L892.8,401.6 L894.6,409.6 L896.3,417.7 L898.1,425.7 L899.9,433.7 L901.6,441.7 L903.2,449.8 L904.6,457.9 L905.9,466 L907.2,474.1 L908.5,482.2 L909.9,490.3 L911.6,498.3 L913.5,506.3 L915.5,514.3 L917.4,522.3 L919.3,530.3 L921.3,538.3 L923.3,546.3 L925.2,554.2 L927.2,562.2 L929.1,570.2 L931,578.2 L932.9,586.2 L934.7,594.2 L936.5,602.3 L938.3,610.3 L940.1,618.3 L941.9,626.3 L943.7,634.3 L945.5,642.4 L947.2,650.4 L949.1,658.4 L951.2,666.3 L953.5,674.2 L955.9,682.1 L958.3,690 L960.7,697.8 L963.2,705.6 L965.9,713.4 L968.6,721.2 L971.2,729 L974,736.7 L976.8,744.4 L979.9,752 L983.3,759.4 L987.3,766.1 L991.4,772.2 L995.6,778.3" fill="none" stroke="#000" stroke-width="2.60" stroke-opacity="0.95" stroke-linecap="round"/>
<rect x="950" y="814" width="126" height="8" fill="#ffe360"/>
<path d="M520,168C528.9,168.4 537.8,168.9 546.7,169.3C555.6,169.8 564.4,170.2 573.3,170.7C582.2,171.1 591.1,171.1 600,172C608.9,172.9 617.8,174.7 626.7,176C635.6,177.3 644.4,178.7 653.3,180C662.2,181.3 670.9,182.3 680,184C689.7,185.9 700,188.7 710,191C720,193.3 731.1,195 740,198C747.5,200.5 753.3,204 760,207C766.7,210 773.8,211.3 780,216C787.4,221.6 793.9,231.1 800,240C806.6,249.6 813.6,262.6 818,272C821.2,279 822.7,284.7 825,291C827.3,297.3 829.9,303.2 832,310C834.4,317.7 836.3,326.7 838.5,335C840.7,343.3 843.1,351.2 845,360C847.1,369.5 848.7,380 850.5,390C852.3,400 853.9,410 856,420C858.1,430 860.7,440 863,450C865.3,460 867.7,470.3 870,480C872.2,489.2 874.2,497.8 876.3,506.7C878.4,515.6 880.6,524.4 882.7,533.3C884.8,542.2 886.9,551.1 889,560C891.1,568.9 893,577.8 895,586.7C897,595.6 899,604.4 901,613.3C903,622.2 904.8,630.9 907,640C909.3,649.7 912,660 914.5,670C917,680 919.3,690.4 922,700C924.5,709 927.3,717.3 930,726C932.7,734.7 935,744.1 938,752C940.6,758.9 943.7,764.7 946.5,771C949.3,777.3 951.2,783.7 955,790C959.4,797.3 966.3,804.7 972,812" fill="none" stroke="#000" stroke-width="1.50" stroke-linejoin="round" stroke-linecap="round" stroke-opacity="0.80"/>
<path d="M760,165C770,169.3 781.3,172.1 790,178C798.5,183.8 805.5,191.6 812,200C818.9,208.9 825.7,221 830,230C833.3,236.9 834.7,242.7 837,249C839.3,255.3 841.9,261.5 844,268C846.2,274.8 848,282 850,289C852,296 854.1,302.7 856,310C858.1,317.9 860,326.7 862,335C864,343.3 865.9,351.3 868,360C870.3,369.5 872.7,380 875,390C877.3,400 879.5,410 882,420C884.5,430 887.3,440 890,450C892.7,460 895.4,470 898,480C900.6,490 903,500 905.5,510C908,520 910.3,530 913,540C915.7,550 918.7,560 921.5,570C924.3,580 927.1,590.5 930,600C932.6,608.7 935.3,616.7 938,625C940.7,633.3 943.3,641.7 946,650C948.7,658.3 951.3,666.7 954,675C956.7,683.3 959.1,691.9 962,700C964.8,707.7 968,715 971,722.5C974,730 976.2,736.8 980,745C984.8,755.5 991,769.7 998,780C1004.5,789.5 1012.7,796.7 1020,805" fill="none" stroke="#000" stroke-width="1.40" stroke-linejoin="round" stroke-linecap="round" stroke-opacity="0.70"/>
<path d="M384,155C393.7,158.7 404.5,161.8 413,166C420.3,169.6 426,174 432.5,178C439,182 445.3,186.9 452,190C458.3,193 465,194.3 471.5,196.5C478,198.7 484.2,200.7 491,203C498.6,205.5 507,208.3 515,211C523,213.7 530.9,216.6 539,219C547.1,221.4 555.3,223.3 563.5,225.5C571.7,227.7 579.3,229.9 588,232C597.9,234.4 608.8,236.7 620,239C632.2,241.5 645.7,243.8 658.5,246.2C671.3,248.7 685.1,250.6 697,253.5C707.4,256 716.3,259.3 726,262.2C735.7,265.2 746.5,267.6 755,271C762.1,273.8 767.7,277.3 774,280.5C780.3,283.7 786.8,286 793,290C799.8,294.4 807.3,300.3 813,306C818.1,311.1 822.1,315.6 826,322C830.7,329.8 835.1,340.8 838,350C840.6,358.4 841.3,366.7 843,375C844.7,383.3 846.3,391.7 848,400" fill="none" stroke="#ffe360" stroke-width="4.00" stroke-linejoin="round" stroke-linecap="round"/>
<path d="M239,973C251.9,973 264.8,973.1 277.7,973.1C290.6,973.1 303.4,973.1 316.3,973.2C329.2,973.2 342.1,973.2 355,973.2C367.9,973.3 380.8,973.3 393.7,973.3C406.6,973.4 419.4,973.4 432.3,973.4C445.2,973.4 458.2,973.3 471,973.5C483.5,973.7 495.8,974.1 508.2,974.4C520.7,974.7 533.1,975 545.5,975.2C557.9,975.5 570.3,975.8 582.8,976.1C595.2,976.4 607.5,976.4 620,977C632.7,977.6 645.7,979 658.5,980C671.3,981 684.8,982.3 697,983C708.2,983.6 718.3,983.7 729,984C739.7,984.3 750.3,984.7 761,985C771.7,985.3 782.6,985.1 793,986C802.9,986.8 812.9,988 822,990C830.4,991.8 838.8,992.7 846,997C853.9,1001.7 859.9,1013 867,1018C872.6,1022 879.1,1021.8 884,1026C889.7,1030.9 894,1038.6 898,1047C903,1057.5 906.3,1072.2 909.5,1085C912.7,1097.8 914.9,1112.6 917,1124C918.6,1133 919.7,1140 921,1148C922.3,1156 923.7,1163.6 925,1172C926.4,1181.2 927.6,1191.3 928.9,1201C930.1,1210.7 931.6,1220.4 932.7,1230C933.8,1239.5 934.7,1248.9 935.7,1258.3C936.7,1267.8 937.7,1277.2 938.7,1286.7C939.7,1296.1 940.4,1305.6 941.7,1315C943.1,1324.5 945.1,1333.9 946.8,1343.3C948.5,1352.8 950.2,1362.2 951.9,1371.7C953.6,1381.1 955.2,1389.8 957,1400C959.1,1411.8 961.3,1425.7 963.5,1438.5C965.7,1451.3 967.5,1464.8 970,1477C972.3,1488.2 975,1498.3 977.5,1509C980,1519.7 982.1,1531 985,1541C987.7,1550.1 991,1558 994,1566.5C997,1575 998.7,1583.2 1003,1592C1008.1,1602.6 1015.9,1615.7 1024,1625C1031.4,1633.5 1039.8,1641.7 1049,1646C1057.6,1650 1067.7,1649.3 1077,1651L1077,1653C1066.2,1652.9 1055.4,1652.8 1044.7,1652.7C1033.9,1652.6 1023.1,1652.4 1012.3,1652.3C1001.6,1652.2 991,1653.1 980,1652C968.3,1650.8 952,1649 944,1645C939.2,1642.6 936.5,1640.2 934,1636C930.8,1630.6 930.6,1621.3 928.9,1614C927.1,1606.7 925.1,1599.9 923.7,1592C922.1,1582.8 921.4,1572 920.3,1562C919.1,1552 918,1542 916.8,1532C915.7,1522 914.5,1512.3 913.4,1502C912.2,1491 911.1,1479.3 910,1468C908.9,1456.7 907.7,1445.3 906.6,1434C905.5,1422.7 904.4,1410.8 903.2,1400C902.1,1390.1 900.9,1381.1 899.8,1371.7C898.7,1362.2 897.5,1352.8 896.4,1343.3C895.3,1333.9 894.4,1324.8 893,1315C891.5,1304.5 889.5,1293.3 887.8,1282.5C886.1,1271.7 883.6,1260.6 882.6,1250C881.6,1240.1 881.9,1230.7 881.5,1221C881.2,1211.3 881.2,1201.2 880.5,1192C879.9,1183.5 878.7,1175.7 877.8,1167.5C876.8,1159.3 876.5,1152 875,1143C873.2,1131.7 870.2,1115.5 867,1105C864.7,1097.3 861.8,1092 859.2,1085.5C856.7,1079 855.4,1072.5 851.5,1066C846.9,1058.3 838,1048.9 832,1043C827.7,1038.8 825.2,1035.3 820,1033C813.1,1029.9 801.2,1030.5 793,1029C786.1,1027.8 781.5,1026.1 774,1025C763.4,1023.4 748.3,1022.7 735.5,1021.5C722.7,1020.3 709.8,1019.4 697,1018C684.2,1016.6 671.3,1014.7 658.5,1013C645.7,1011.3 631.9,1009.3 620,1008C609.7,1006.9 600.7,1006.3 591,1005.5C581.3,1004.7 571.8,1003.9 562,1003C552,1002.1 541.9,1001.1 531.8,1000.2C521.8,999.2 511.7,998.3 501.7,997.3C491.6,996.4 482.2,995.5 471.5,994.5C459.4,993.4 445.7,992.2 432.8,991.1C419.8,990 406.5,988.8 394,987.7C382.3,986.7 371.3,985.8 360,984.9C348.7,983.9 336.9,982.5 326,982C316,981.5 306.7,981.8 297,981.7C287.3,981.6 277.7,981.4 268,981.3C258.3,981.2 248.7,981.1 239,981Z" fill="#ffe360"/>
<path d="M886.3,1043.3 L890.4,1050.6 L893.9,1058.2 L896.9,1066.1 L899.3,1074.2 L901.4,1082.4 L903.3,1090.6 L905.1,1098.8 L906.8,1107.1 L908.3,1115.4 L909.7,1123.7 L911,1132 L912.3,1140.4 L913.5,1148.7 L914.7,1157.1 L915.9,1165.4 L917.2,1173.7 L918.4,1182.1 L919.6,1190.4 L920.7,1198.8 L921.9,1207.2 L923,1215.5 L924.2,1223.9 L925.4,1232.2 L926.5,1240.6 L927.5,1249 L928.4,1257.4 L929.2,1265.8 L930.1,1274.2 L931,1282.6 L931.9,1291 L932.9,1299.4 L933.7,1307.8 L934.5,1316.2 L935.5,1324.6 L936.7,1332.9 L938.1,1341.2 L939.6,1349.5 L941,1357.9 L942.4,1366.2 L943.8,1374.5 L945.2,1382.8 L946.6,1391.1 L948,1399.5 L949.4,1407.8 L950.8,1416.1 L952.1,1424.5 L953.4,1432.8 L954.7,1441.1 L956.1,1449.5 L957.4,1457.8 L958.7,1466.1 L959.9,1474.5 L961.3,1482.8 L962.8,1491.1 L964.5,1499.4 L966.3,1507.6 L968.1,1515.9 L970,1524.1 L971.9,1532.3 L973.7,1540.6 L975.6,1548.8 L977.8,1556.9 L980.6,1564.9 L984.1,1572.4 L987.7,1579.6 L991.1,1586.8 L994.6,1593.8 L998.6,1600.6 L1003.1,1607.1 L1007.9,1613.3 L1013.1,1619.4 L1018.5,1625.2 L1024.4,1630.7 L1030.6,1635.9 L1037.2,1640.7 M881.8,1058.2 L885.5,1065.7 L888.6,1073.5 L891.3,1081.5 L893.5,1089.6 L895.4,1097.9 L897,1106.1 L898.6,1114.4 L900.1,1122.7 L901.5,1131.1 L902.8,1139.4 L903.9,1147.8 L905,1156.2 L906,1164.6 L906.9,1173 L907.9,1181.4 L908.9,1189.7 L910,1198.1 L911.1,1206.5 L912.3,1214.9 L913.6,1223.3 L914.8,1231.6 L916,1240 L917.2,1248.4 L918.4,1256.8 L919.4,1265.1 L920.4,1273.6 L921.3,1282 L922.2,1290.4 L923.1,1298.8 L924.1,1307.2 L925,1315.6 L925.9,1324 L926.8,1332.4 L927.7,1340.8 L928.9,1349.2 L930.2,1357.6 L931.5,1365.9 L932.8,1374.3 L934,1382.7 L935.3,1391 L936.6,1399.4 L937.8,1407.7 L939.1,1416.1 L940.4,1424.5 L941.6,1432.8 L942.8,1441.2 L944.1,1449.6 L945.3,1457.9 L946.5,1466.3 L947.8,1474.7 L949,1483 L950.2,1491.4 L951.5,1499.8 L952.8,1508.1 L954.3,1516.4 L955.9,1524.7 L957.6,1533 L959.4,1541.3 L961.2,1549.5 L963.1,1557.8 L964.9,1566 L967,1574.2 L970,1582.1 L974.1,1589.2 L978.7,1595.5 L983.3,1601.4 L987.9,1607.1 L993,1612.5 L998.4,1617.7 L1004.1,1622.6 L1010.1,1627.2 L1016.2,1631.6 L1022.7,1635.8 L1029.5,1639.8 L1036.5,1643.5 M877.4,1073 L880.6,1080.8 L883.3,1088.8 L885.6,1096.9 L887.6,1105.1 L889.3,1113.4 L890.8,1121.7 L892.1,1130.1 L893.5,1138.4 L894.8,1146.8 L895.9,1155.2 L896.8,1163.6 L897.7,1172 L898.4,1180.5 L899.1,1188.9 L899.9,1197.3 L900.6,1205.8 L901.6,1214.2 L902.7,1222.6 L904,1231 L905.3,1239.3 L906.5,1247.7 L907.8,1256.1 L909.1,1264.5 L910.3,1272.9 L911.4,1281.3 L912.4,1289.7 L913.3,1298.1 L914.2,1306.6 L915.2,1315 L916.2,1323.4 L917.1,1331.9 L918,1340.3 L919,1348.7 L920,1357.1 L921.1,1365.5 L922.2,1373.9 L923.4,1382.3 L924.5,1390.7 L925.7,1399.1 L926.8,1407.5 L927.9,1415.9 L929.1,1424.3 L930.2,1432.7 L931.4,1441.1 L932.5,1449.5 L933.6,1457.9 L934.7,1466.3 L935.8,1474.7 L937,1483.1 L938.2,1491.5 L939.3,1499.9 L940.4,1508.3 L941.6,1516.7 L942.9,1525.1 L944.1,1533.5 L945.5,1541.8 L947,1550.2 L948.7,1558.5 L950.6,1566.7 L952.6,1575 L954.3,1583.3 L956.2,1591.5 L959.4,1599.4 L964.2,1606 L969.8,1611.4 L975.5,1616.1 L981.3,1620.4 L987.4,1624.5 L993.8,1628.3 L1000.3,1631.8 L1007,1634.9 L1013.9,1637.9 L1021.1,1640.9 L1028.4,1643.7 L1035.9,1646.3 M873.6,1085.7 L876.4,1093.6 L878.8,1101.7 L880.9,1109.9 L882.7,1118.2 L884.2,1126.6 L885.5,1135 L886.6,1143.4 L887.8,1151.8 L889,1160.2 L890.1,1168.6 L890.8,1177 L891.4,1185.5 L892,1194 L892.5,1202.4 L893,1210.9 L893.6,1219.4 L894.4,1227.8 L895.5,1236.2 L896.8,1244.6 L898.2,1253 L899.6,1261.4 L900.9,1269.8 L902.2,1278.2 L903.5,1286.6 L904.6,1295 L905.6,1303.5 L906.5,1311.9 L907.5,1320.3 L908.5,1328.8 L909.4,1337.2 L910.4,1345.7 L911.4,1354.1 L912.4,1362.6 L913.4,1371 L914.4,1379.4 L915.5,1387.9 L916.5,1396.3 L917.5,1404.7 L918.5,1413.1 L919.6,1421.6 L920.6,1430 L921.6,1438.4 L922.7,1446.9 L923.7,1455.3 L924.7,1463.7 L925.7,1472.2 L926.7,1480.6 L927.8,1489 L928.9,1497.4 L930,1505.9 L931.1,1514.3 L932.1,1522.7 L933.2,1531.1 L934.4,1539.6 L935.5,1548 L936.7,1556.4 L938,1564.8 L939.6,1573.1 L941.6,1581.4 L943.6,1589.6 L945.2,1598 L947,1606.3 L950.3,1614 L955.7,1620.3 L962.1,1624.9 L968.8,1628.5 L975.6,1631.8 L982.6,1634.7 L989.8,1637.4 L997.1,1639.6 L1004.5,1641.6 L1012,1643.4 L1019.7,1645.2 L1027.4,1647 L1035.3,1648.7 M870.1,1097.6 L872.5,1105.7 L874.6,1113.9 L876.4,1122.2 L878,1130.6 L879.4,1139 L880.4,1147.4 L881.4,1155.9 L882.5,1164.3 L883.6,1172.7 L884.5,1181.2 L885.2,1189.7 L885.6,1198.2 L885.9,1206.7 L886.3,1215.2 L886.6,1223.7 L887,1232.2 L887.7,1240.6 L888.8,1249.1 L890.1,1257.5 L891.6,1265.9 L893,1274.3 L894.3,1282.7 L895.7,1291.1 L897,1299.5 L898.2,1307.9 L899.2,1316.4 L900.2,1324.8 L901.1,1333.3 L902.1,1341.8 L903.1,1350.2 L904.1,1358.7 L905.1,1367.1 L906.1,1375.6 L907.2,1384 L908.1,1392.5 L909.1,1400.9 L910,1409.4 L910.9,1417.9 L911.8,1426.3 L912.8,1434.8 L913.7,1443.2 L914.6,1451.7 L915.5,1460.2 L916.5,1468.6 L917.4,1477.1 L918.3,1485.5 L919.2,1494 L920.2,1502.5 L921.3,1510.9 L922.3,1519.4 L923.3,1527.8 L924.3,1536.3 L925.4,1544.7 L926.4,1553.2 L927.4,1561.6 L928.4,1570.1 L929.5,1578.5 L931.1,1586.8 L933.1,1595.1 L935.1,1603.4 L936.7,1611.8 L938.4,1620.1 L941.8,1627.8 L947.7,1633.7 L955,1637.6 L962.6,1640.3 L970.3,1642.4 L978.1,1644.3 L986,1645.9 L994,1647 L1002.1,1647.8 L1010.2,1648.5 L1018.3,1649.3 L1026.5,1650.1 L1034.8,1650.9" fill="none" stroke="#000" stroke-width="1.30" stroke-opacity="0.50" stroke-linecap="round"/>
<path d="M793,1027C795.7,1029.7 798.2,1031.3 801,1035C805.4,1040.8 810.1,1051.4 815,1060C820.3,1069.3 826.5,1080 832,1089C836.9,1097 841.7,1104 846.5,1111.5C851.3,1119 856.4,1125.9 861,1134C866,1142.9 871.8,1153.3 875,1163C877.9,1172 878.3,1181 880,1190" fill="none" stroke="#ffe360" stroke-width="3.50" stroke-linejoin="round" stroke-linecap="round"/>
<path d="M815,1031C819.3,1034.7 824.1,1036.9 828,1042C833.5,1049.2 837.4,1061.8 842,1072C846.7,1082.5 851.6,1093.9 856,1104C859.9,1113.1 863.5,1121.7 867,1130C870.2,1137.6 873,1144.7 876,1152" fill="none" stroke="#ffe360" stroke-width="3.50" stroke-linejoin="round" stroke-linecap="round"/>
<path d="M600,992C611.1,992.9 622.2,993.8 633.3,994.7C644.4,995.6 655.6,996.4 666.7,997.3C677.8,998.2 689.5,999.2 700,1000C709.4,1000.7 717.8,1001.3 726.7,1002C735.6,1002.7 744.4,1003.3 753.3,1004C762.2,1004.7 771.3,1004.9 780,1006C788.5,1007.1 796.7,1009 805,1010.5C813.3,1012 821.8,1011.2 830,1015C840.2,1019.7 852.6,1031.5 860,1040C865.7,1046.6 868.3,1053.3 872.5,1060C876.7,1066.7 881.8,1072.4 885,1080C888.7,1088.7 890,1100 892.5,1110C895,1120 898.2,1130.2 900,1140C901.7,1149.1 902.2,1157.8 903.3,1166.7C904.4,1175.6 905.6,1184.4 906.7,1193.3C907.8,1202.2 908.9,1210.7 910,1220C911.2,1230.1 912.2,1241.1 913.3,1251.7C914.4,1262.2 915.6,1272.8 916.7,1283.3C917.8,1293.9 918.7,1304.7 920,1315C921.2,1324.7 922.7,1333.9 924,1343.3C925.3,1352.8 926.7,1362.2 928,1371.7C929.3,1381.1 930.6,1390.7 932,1400C933.4,1409 934.9,1417.8 936.3,1426.7C937.8,1435.6 939.2,1444.4 940.7,1453.3C942.1,1462.2 943.4,1471.1 945,1480C946.6,1488.9 948.3,1497.8 950,1506.7C951.7,1515.6 953.3,1524.4 955,1533.3C956.7,1542.2 957.6,1551.1 960,1560C962.5,1569.2 966.7,1578.3 970,1587.5C973.3,1596.7 975.2,1606.4 980,1615C985,1624 993.3,1631.7 1000,1640" fill="none" stroke="#000" stroke-width="1.50" stroke-linejoin="round" stroke-linecap="round" stroke-opacity="0.70"/>
<path d="M860,1000C866.7,1005 874.3,1008.7 880,1015C886.1,1021.8 891.5,1031.9 895,1040C897.9,1046.8 898.7,1053.3 900.5,1060C902.3,1066.7 904.5,1072.9 906,1080C907.7,1087.8 908.7,1096.7 910,1105C911.3,1113.3 912.8,1121 914,1130C915.5,1140.7 916.7,1153.3 918,1165C919.3,1176.7 920.8,1189.1 922,1200C923.1,1209.5 924,1217.8 925,1226.7C926,1235.6 927,1244.4 928,1253.3C929,1262.2 929.9,1271.1 931,1280C932.1,1288.9 933.4,1297.8 934.7,1306.7C935.9,1315.6 937.1,1324.4 938.3,1333.3C939.6,1342.2 940.7,1351.1 942,1360C943.3,1368.9 944.9,1377.8 946.3,1386.7C947.8,1395.6 949.2,1404.4 950.7,1413.3C952.1,1422.2 953.3,1430.5 955,1440C956.9,1450.9 959.3,1463.3 961.5,1475C963.7,1486.7 965.4,1498.8 968,1510C970.4,1520.4 973.7,1530 976.5,1540C979.3,1550 981.7,1560.8 985,1570C987.9,1578.2 991.7,1585 995,1592.5C998.3,1600 1000.4,1607.8 1005,1615C1010.1,1623 1018.3,1630.3 1025,1638" fill="none" stroke="#000" stroke-width="1.40" stroke-linejoin="round" stroke-linecap="round" stroke-opacity="0.70"/>
<path d="M241,977C241.7,985.8 242.3,994.7 243,1003.5C243.7,1012.3 244.5,1020.5 245,1030C245.6,1040.9 245.8,1053.3 246.2,1065C246.7,1076.7 247.1,1088.5 247.5,1100C247.9,1111.2 248.2,1122.2 248.5,1133.3C248.8,1144.4 249.2,1155.6 249.5,1166.7C249.8,1177.8 250,1189.7 250.5,1200C250.9,1208.9 251.6,1216.7 252.1,1225C252.6,1233.3 252.8,1240.8 253.7,1250C254.8,1261.5 256.9,1277 258.8,1288.5C260.4,1297.9 262.6,1305.7 264,1314C265.3,1321.7 266,1329 267,1336.5C268,1344 269.2,1351.7 270,1359C270.8,1366 271.3,1372.7 272,1379.5C272.7,1386.3 273.3,1392.5 274,1400C274.9,1409.1 276,1420 277,1430C278,1440 278.6,1449.7 280,1460C281.5,1471 283,1483.9 285.8,1494C288.2,1502.6 290.7,1511 295,1517C298.6,1522.1 304.3,1524.7 308.6,1528.6C312.6,1532.3 316.7,1535.5 320,1540C323.6,1544.9 326.9,1551.2 329.2,1557C331.4,1562.5 332.8,1567.5 333.8,1574C335.1,1582.3 332.2,1595.8 335,1603C337,1608.3 339.9,1612 345,1615C352.7,1619.6 368.8,1620.1 380,1622C390.4,1623.7 400,1624.7 410,1626C420,1627.3 430.3,1629 440,1630C449.1,1631 457.8,1631.3 466.7,1632C475.6,1632.7 484.4,1633.3 493.3,1634C502.2,1634.7 510.4,1635.4 520,1636C531.1,1636.7 544,1637.1 556,1637.6C568,1638.1 580,1638.7 592,1639.2C604,1639.7 616,1640.3 628,1640.8C640,1641.3 652,1641.9 664,1642.4C676,1642.9 688.2,1643.6 700,1644C711.3,1644.4 722.2,1644.4 733.3,1644.7C744.4,1644.9 755.6,1645.1 766.7,1645.3C777.8,1645.6 788.9,1645.8 800,1646C811.1,1646.2 822.2,1646.4 833.3,1646.7C844.4,1646.9 855.6,1647.1 866.7,1647.3C877.8,1647.6 888.7,1647.8 900,1648C911.6,1648.2 923.6,1648.5 935.4,1648.8C947.2,1649.1 959,1649.3 970.8,1649.6C982.6,1649.9 994.4,1650.1 1006.2,1650.4C1018,1650.7 1029.8,1650.9 1041.6,1651.2C1053.4,1651.5 1065.2,1651.7 1077,1652L1077,1655C1065.2,1654.9 1053.4,1654.7 1041.6,1654.6C1029.8,1654.5 1018,1654.3 1006.2,1654.2C994.4,1654.1 982.6,1653.9 970.8,1653.8C959,1653.7 947.2,1653.5 935.4,1653.4C923.6,1653.3 911.6,1653.1 900,1653C888.7,1652.9 877.8,1652.9 866.7,1652.8C855.6,1652.8 844.4,1652.7 833.3,1652.7C822.2,1652.6 811.1,1652.6 800,1652.5C788.9,1652.4 777.8,1652.4 766.7,1652.3C755.6,1652.3 744.4,1652.2 733.3,1652.2C722.2,1652.1 711.3,1652.1 700,1652C688.2,1651.9 676,1651.7 664,1651.6C652,1651.5 640,1651.3 628,1651.2C616,1651.1 604,1650.9 592,1650.8C580,1650.7 568,1650.5 556,1650.4C544,1650.3 531.1,1650.1 520,1650C510.4,1649.9 502.2,1649.7 493.3,1649.6C484.4,1649.5 475.6,1649.3 466.7,1649.2C457.8,1649.1 448.8,1649.1 440,1648.8C431.4,1648.5 422.9,1648 414.4,1647.7C405.8,1647.3 397,1646.9 388.7,1646.5C380.9,1646.1 373.5,1645.7 365.9,1645.3C358.2,1645 350.6,1645 343,1644.2C335.3,1643.4 327,1642.5 320,1640.8C313.8,1639.3 308.2,1637.9 303,1635C297.5,1631.9 292.1,1627.6 288,1622.5C283.6,1617.1 280.7,1610.3 277.8,1603C274.4,1594.4 272.1,1584.1 269.7,1574C267.1,1563.2 264.6,1550.3 262.9,1540C261.5,1531.6 261,1524.7 260,1517C259.1,1509.3 258.5,1502.4 257.2,1494C255.6,1483.8 252.2,1471 251,1460C249.9,1449.7 250.2,1439.6 249.8,1430C249.4,1421 249,1412.7 248.6,1404C248.1,1395.3 247.7,1387.1 247.3,1378C246.9,1367.9 246.4,1356.7 246,1346C245.6,1335.3 245.1,1324.7 244.7,1314C244.3,1303.3 243.8,1292.7 243.3,1282C242.9,1271.3 242.5,1260 242,1250C241.5,1241.2 241,1233.3 240.5,1225C240,1216.7 239.4,1208.9 239,1200C238.6,1189.7 238.4,1177.8 238.2,1166.7C237.9,1155.6 237.6,1144.4 237.3,1133.3C237.1,1122.2 236.8,1111.2 236.5,1100C236.2,1088.5 236,1076.7 235.8,1065C235.5,1053.3 235.2,1041.2 235,1030C234.8,1019.6 234.6,1009.3 234.5,1000C234.4,991.8 234.5,984.7 234.5,977Z" fill="#ffe360"/>
<path d="M292.2,1423C294.8,1430.3 297,1438.5 300,1445C302.6,1450.6 305.5,1454.1 308.6,1460C312.8,1467.9 317.8,1478.6 322.4,1488.6C327.4,1499.5 332.5,1512.8 337.3,1523C341.2,1531.4 345.4,1537.6 348.7,1545.8C352.3,1554.7 354.8,1565.4 357.8,1574.4C360.5,1582.5 361.9,1592 365.9,1597.3C368.9,1601.3 372.6,1603.2 377.3,1605.3C383.4,1608.1 392.8,1609.6 400.2,1611C407,1612.3 413.5,1612.9 420.1,1613.8C426.7,1614.8 432.7,1615.9 440,1616.7C449,1617.7 460,1618.3 470,1619.2C480,1620 489.9,1620.9 500,1621.6C510.2,1622.3 520.5,1622.9 530.8,1623.5C541,1624.2 550.7,1624.7 561.5,1625.5C573.4,1626.4 586.5,1627.6 599,1628.7C611.5,1629.7 624,1630.8 636.5,1631.8C649,1632.9 661.4,1633.9 674,1635C686.8,1636.1 699.8,1637.3 712.8,1638.5C725.7,1639.7 738.7,1641.2 751.5,1642C764,1642.8 776.2,1642.8 788.6,1643.2C801,1643.6 813.4,1644 825.8,1644.3C838.1,1644.7 850.5,1645.1 862.9,1645.5C875.2,1645.9 887.8,1646.4 900,1646.7C911.9,1647 923.6,1647.1 935.4,1647.4C947.2,1647.6 959,1647.8 970.8,1648C982.6,1648.2 994.4,1648.5 1006.2,1648.7C1018,1648.9 1029.8,1649.1 1041.6,1649.3C1053.4,1649.6 1065.2,1649.8 1077,1650L440,1622C428.3,1620.3 416.7,1618.7 405,1617C393.3,1615.3 380.1,1614.8 370,1612C361.9,1609.7 353.2,1607.8 348.7,1603C344.8,1598.7 344.5,1592.2 343,1586C341.3,1579 340.5,1570.1 339.5,1563C338.6,1556.9 338.6,1551.5 337.3,1545.8C336,1540 334.2,1534.1 331.5,1528.6C328.6,1522.7 324.3,1517.6 320,1511.5C315,1504.4 307.9,1497 303,1488.6C297.9,1479.9 293.8,1468.7 290.3,1460C287.4,1452.8 285.3,1446.4 283,1440C280.8,1434.1 278.9,1428.7 276.8,1423Z" fill="#ffe360"/>
<path d="M335,1603C339.6,1603 343.9,1603.8 348.7,1603C354.2,1602.1 360.9,1596.6 365.9,1597.3C370.3,1597.9 372.6,1603.2 377.3,1605.3C383.4,1608.1 392.8,1609.6 400.2,1611C407,1612.3 413.5,1612.9 420.1,1613.8C426.7,1614.8 432.7,1615.9 440,1616.7C449,1617.7 460,1618.3 470,1619.2C480,1620 489.9,1620.9 500,1621.6C510.2,1622.3 520.5,1622.9 530.8,1623.5C541,1624.2 550.7,1624.7 561.5,1625.5C573.4,1626.4 586.5,1627.6 599,1628.7C611.5,1629.7 624,1630.8 636.5,1631.8C649,1632.9 661.4,1633.9 674,1635C686.8,1636.1 699.8,1637.3 712.8,1638.5C725.7,1639.7 738.7,1641.2 751.5,1642C764,1642.8 776.2,1642.8 788.6,1643.2C801,1643.6 813.4,1644 825.8,1644.3C838.1,1644.7 850.5,1645.1 862.9,1645.5C875.2,1645.9 887.8,1646.4 900,1646.7C911.9,1647 923.6,1647.1 935.4,1647.4C947.2,1647.6 959,1647.8 970.8,1648C982.6,1648.2 994.4,1648.5 1006.2,1648.7C1018,1648.9 1029.8,1649.1 1041.6,1649.3C1053.4,1649.6 1065.2,1649.8 1077,1650L1077,1657C1065.2,1657 1053.4,1657 1041.6,1657C1029.8,1657 1018,1657 1006.2,1657C994.4,1657 982.6,1657 970.8,1657C959,1657 947.2,1657 935.4,1657C923.6,1657 911.6,1657 900,1657C888.7,1657 877.8,1657 866.7,1657C855.6,1657 844.4,1657 833.3,1657C822.2,1657 811.1,1657 800,1657C788.9,1657 777.8,1657 766.7,1657C755.6,1657 744.4,1657 733.3,1657C722.2,1657 710.6,1657.2 700,1657C690.3,1656.9 681.3,1656.4 672,1656.2C662.7,1655.9 653.3,1655.6 644,1655.3C634.7,1655.1 625.6,1654.9 616,1654.5C605.7,1654.1 594.7,1653.5 584,1653C573.3,1652.5 562.7,1652 552,1651.5C541.3,1651 530.2,1650.3 520,1650C510.7,1649.7 502.2,1649.7 493.3,1649.6C484.4,1649.5 475.6,1649.3 466.7,1649.2C457.8,1649.1 448.8,1649.1 440,1648.8C431.4,1648.5 422.9,1648 414.4,1647.7C405.8,1647.3 397,1646.9 388.7,1646.5C380.9,1646.1 373.5,1645.7 365.9,1645.3C358.2,1645 348.5,1645.7 343,1644.2C339.5,1643.2 337.7,1641.4 335,1640Z" fill="#ffe360"/>
<path d="M241,977C242.3,981.3 244.1,984.7 245,990C246.3,997.9 245.5,1010 245.8,1020C246,1030 246.2,1039.7 246.5,1050C246.8,1060.8 247.3,1072.2 247.7,1083.3C248.1,1094.4 248.4,1105.6 248.8,1116.7C249.2,1127.8 249.6,1138.9 250,1150C250.4,1161.1 250.8,1172.2 251.2,1183.3C251.6,1194.4 252.1,1205.6 252.5,1216.7C252.9,1227.8 252.7,1238.5 253.7,1250C254.7,1262.4 256.9,1277 258.8,1288.5C260.4,1297.9 262.3,1305.8 264,1314C265.6,1321.7 267,1329 268.5,1336.5C270,1344 271,1350.9 273,1359C275.3,1368.8 278.8,1380.4 282,1391C285.2,1401.7 288.8,1412.3 292.2,1423L249.8,1430C249.4,1421.3 249,1412.7 248.6,1404C248.1,1395.3 247.7,1387.1 247.3,1378C246.9,1367.9 246.4,1356.7 246,1346C245.6,1335.3 245.1,1324.7 244.7,1314C244.3,1303.3 243.8,1292.7 243.3,1282C242.9,1271.3 242.5,1260 242,1250C241.5,1241.2 241,1233.3 240.5,1225C240,1216.7 239.4,1208.9 239,1200C238.6,1189.7 238.4,1177.8 238.2,1166.7C237.9,1155.6 237.6,1144.4 237.3,1133.3C237.1,1122.2 236.8,1111.2 236.5,1100C236.2,1088.5 236,1076.7 235.8,1065C235.5,1053.3 235.2,1041.2 235,1030C234.8,1019.6 234.6,1009.3 234.5,1000C234.4,991.8 234.5,984.7 234.5,977Z" fill="#ffe360"/>
<path d="M262,1505C263.3,1511.7 264.7,1518.3 266,1525C267.3,1531.7 268,1537.5 270,1545C272.7,1555.1 277.1,1569.2 282,1580C286.6,1590.1 291.7,1599.8 298,1608C303.9,1615.7 311.1,1623.6 318,1628C323.5,1631.5 329.3,1632 335,1634" fill="none" stroke="#000" stroke-width="2.00" stroke-linejoin="round" stroke-linecap="round" stroke-opacity="0.90"/>
<path d="M312,1552C315.3,1559.7 319,1567.3 322,1575C325,1582.6 327.3,1590.3 330,1598" fill="none" stroke="#000" stroke-width="2.00" stroke-linejoin="round" stroke-linecap="round" stroke-opacity="0.90"/>
<path d="M290,1470C295,1478.3 299.7,1486.7 305,1495C310.4,1503.4 316.9,1512.1 322,1520C326.5,1527 331,1532.7 334,1540C337.1,1547.7 338.3,1556.6 340,1565C341.7,1573.3 342.7,1581.7 344,1590" fill="none" stroke="#000" stroke-width="1.20" stroke-linejoin="round" stroke-linecap="round" stroke-opacity="0.50"/>
<path d="M355,1612C363.3,1613.3 372.1,1615.1 380,1616C387,1616.8 393.3,1617 400,1617.5C406.7,1618 413,1618.5 420,1619C427.9,1619.5 436.7,1620 445,1620.5C453.3,1621 461.7,1621.5 470,1622" fill="none" stroke="#000" stroke-width="1.50" stroke-linejoin="round" stroke-linecap="round" stroke-opacity="0.80"/>
<path d="M1254,135C1266.4,135 1278.8,135 1291.2,135C1303.6,135 1315.9,135 1328.3,135C1340.7,135 1353.1,135 1365.5,135C1377.9,135 1390.3,135 1402.7,135C1415.1,135 1427.4,135 1439.8,135C1452.2,135 1464.6,135 1477,135C1489.4,135 1501.8,135 1514.2,135C1526.6,135 1538.9,135 1551.3,135C1563.7,135 1576.1,135 1588.5,135C1600.9,135 1613.3,135 1625.7,135C1638.1,135 1650.4,135 1662.8,135C1675.2,135 1688.3,135 1700,135C1710.5,135 1720,135 1730,135C1740,135 1750,135 1760,135C1770,135 1780,135 1790,135C1800,135 1811.9,134.7 1820,135C1825.5,135.2 1829.6,135.2 1834,136C1838.2,136.8 1842.4,137.8 1846,139.5C1849.4,141.1 1852.4,143.2 1855,146C1858,149.2 1860,153.3 1862.5,158C1865.8,164.1 1869.6,172 1872.5,180C1875.8,189.1 1878.5,201 1880.5,210C1882.1,217.3 1882.9,223.3 1884,230C1885.2,236.7 1886.4,243.3 1887.6,250C1888.8,256.9 1890.1,264 1891.3,271C1892.5,278 1893.8,284.8 1895,292C1896.3,299.5 1897.6,307.3 1898.8,314.9C1900.1,322.5 1901.3,329.2 1902.7,337.8C1904.5,348.7 1906.9,362.5 1909,375C1911.1,387.6 1913.4,400.9 1915.2,413C1916.9,424 1918.1,433.9 1919.6,444.4C1921.1,454.9 1922.5,465.3 1924,475.8C1925.5,486.3 1926.9,496.7 1928.4,507.1C1929.9,517.6 1931.3,527.6 1932.8,538.5C1934.4,550.5 1936.1,563.6 1937.8,576.1C1939.5,588.7 1940.7,603.2 1942.8,613.8C1944.3,621.7 1946.3,627.5 1948,634.4C1949.8,641.3 1951.3,648.3 1953.3,655C1955.2,661.5 1957.5,667.7 1959.7,674C1961.8,680.3 1963.4,685.9 1966,693C1969.4,702.3 1973.9,714.5 1978.8,725C1983.8,735.8 1989.9,747.1 1995.8,757C2001.2,766 2006.3,774.3 2012.7,782C2019.1,789.8 2026.8,798.6 2034,803.5C2039.6,807.4 2044.4,809.4 2051,811C2059.2,813 2070.6,812.2 2080,812.5C2088.9,812.8 2097.3,812.8 2106,813L2106,818.5C2093.1,818.5 2080.2,818.5 2067.3,818.5C2054.4,818.5 2041.6,818.5 2028.7,818.5C2015.8,818.5 1999,819.1 1990,818.5C1985.1,818.2 1982.8,818.3 1978.8,817C1973.6,815.3 1966.4,813 1961.8,808C1955.8,801.4 1952.6,787.2 1949,778C1946,770.4 1944,764 1941.5,757C1939,750 1936.7,744 1934,736C1930.5,725.6 1925.9,711.8 1922.8,699.6C1919.7,687.4 1917.8,675.1 1915.2,662.8C1912.7,650.5 1910,638.3 1907.7,626C1905.4,613.6 1903.5,601 1901.5,588.5C1899.4,576 1897,563.5 1895.2,551C1893.4,538.5 1892.3,525.9 1890.8,513.4C1889.3,500.9 1887.9,487.1 1886.4,475.8C1885.2,466.6 1883.6,459.1 1882.6,450.7C1881.6,442.3 1881.1,433.8 1880.3,425.4C1879.5,416.9 1878.8,408.4 1878,400C1877.2,391.6 1876.2,383.3 1875.3,375C1874.4,366.7 1873.6,358.3 1872.6,350C1871.6,341.7 1870.4,333.3 1869.3,325C1868.2,316.7 1867.1,308.3 1866,300C1865,291.7 1864,283.3 1863,275C1862,266.7 1861.2,258 1860,250C1858.9,242.4 1857.5,236 1856,228C1854.2,218.3 1852.2,205.6 1850,196C1848.1,187.9 1846.9,180.6 1844,174C1841.4,168 1838.4,162.6 1834,158C1829.2,153 1822.9,147.9 1816,145.5C1808.4,142.9 1799,144.7 1790,144C1780.3,143.2 1770,141.5 1760,141C1750,140.5 1740,140.8 1730,140.8C1720,140.7 1710.5,140.5 1700,140.5C1688.3,140.5 1675.2,140.5 1662.8,140.5C1650.4,140.5 1638.1,140.5 1625.7,140.5C1613.3,140.5 1600.9,140.5 1588.5,140.5C1576.1,140.5 1563.7,140.5 1551.3,140.5C1538.9,140.5 1526.6,140.5 1514.2,140.5C1501.8,140.5 1489.4,140.5 1477,140.5C1464.6,140.5 1452.2,140.5 1439.8,140.5C1427.4,140.5 1415.1,140.5 1402.7,140.5C1390.3,140.5 1377.9,140.5 1365.5,140.5C1353.1,140.5 1340.7,140.5 1328.3,140.5C1315.9,140.5 1303.6,140.5 1291.2,140.5C1278.8,140.5 1266.4,140.5 1254,140.5Z" fill="#ffe360"/>
<path d="M1898.5,365.4 L1899.8,374 L1901.1,382.5 L1902.3,391.1 L1903.6,399.7 L1904.8,408.2 L1906.1,416.8 L1907.5,425.3 L1908.8,433.9 L1909.9,442.5 L1911.1,451 L1912.2,459.6 L1913.4,468.2 L1914.5,476.8 L1915.6,485.4 L1916.8,494 L1917.9,502.5 L1919.1,511.1 L1920.3,519.7 L1921.6,528.2 L1922.9,536.8 L1924.2,545.4 L1925.4,553.9 L1926.6,562.5 L1927.8,571.1 L1929,579.7 L1930.3,588.2 L1931.5,596.8 L1932.7,605.4 L1933.9,613.9 L1935.3,622.5 L1936.9,631 L1938.9,639.4 L1941,647.8 L1943.1,656.2 L1945.2,664.6 L1947.7,672.9 L1950.4,681.1 L1953.2,689.3 L1955.9,697.5 L1958.7,705.7 L1961.7,713.8 L1964.7,722 L1967.8,730 L1971.2,738 L1974.6,745.9 L1978.3,753.8 L1982.4,761.4 L1987.2,768.5 L1992.5,774.9 L1998,781 L2003.9,786.5 L2010,791.6 L2016.4,796.6 L2023,801.2 L2030,805.6 L2037.5,809.2 L2045.6,811.8 L2054.1,813.3 L2062.7,813.9 M1891.8,377.9 L1892.9,386.5 L1894,395.1 L1895.1,403.8 L1896.2,412.4 L1897.3,421 L1898.5,429.6 L1899.9,438.2 L1901.2,446.8 L1902.3,455.5 L1903.4,464.1 L1904.5,472.7 L1905.6,481.4 L1906.7,490 L1907.8,498.6 L1908.9,507.3 L1910,515.9 L1911.2,524.5 L1912.4,533.1 L1913.7,541.7 L1915.1,550.3 L1916.5,558.9 L1917.8,567.5 L1919,576.1 L1920.3,584.7 L1921.6,593.3 L1923,601.9 L1924.4,610.5 L1925.8,619.1 L1927.2,627.7 L1928.7,636.2 L1930.3,644.8 L1932.2,653.3 L1934.2,661.7 L1936.2,670.2 L1938.4,678.6 L1940.9,687 L1943.6,695.2 L1946.3,703.5 L1949.1,711.8 L1951.9,720 L1954.9,728.1 L1957.9,736.3 L1961,744.5 L1964.2,752.5 L1967.4,760.6 L1970.9,768.6 L1975,776.2 L1980.3,782.9 L1986.5,788.5 L1993,793.3 L1999.8,797.2 L2006.9,800.7 L2014,803.9 L2021.4,807 L2029,809.9 L2036.9,812.3 L2045.2,814 L2053.8,815.1 L2062.5,815.4 M1885,390.4 L1886,399.1 L1886.9,407.8 L1887.9,416.5 L1888.8,425.2 L1889.7,433.8 L1890.9,442.5 L1892.2,451.1 L1893.6,459.8 L1894.7,468.5 L1895.8,477.1 L1896.8,485.8 L1897.9,494.5 L1898.9,503.2 L1900,511.9 L1901,520.6 L1902,529.2 L1903.2,537.9 L1904.5,546.6 L1905.9,555.2 L1907.3,563.8 L1908.7,572.5 L1910.1,581.1 L1911.4,589.7 L1912.8,598.4 L1914.2,607 L1915.6,615.6 L1917.2,624.2 L1918.8,632.8 L1920.4,641.4 L1922.1,650 L1923.7,658.6 L1925.5,667.2 L1927.3,675.7 L1929.3,684.2 L1931.6,692.7 L1934,701.1 L1936.7,709.4 L1939.5,717.7 L1942.2,726 L1945.2,734.2 L1948.2,742.4 L1951.1,750.7 L1954.1,758.9 L1957.3,767 L1960.3,775.2 L1963.5,783.4 L1967.6,791.1 L1973.4,797.4 L1980.5,802 L1988,805.7 L1995.8,807.9 L2003.7,809.7 L2011.7,811.3 L2019.7,812.8 L2027.9,814.2 L2036.3,815.4 L2044.8,816.3 L2053.5,816.8 L2062.3,817" fill="none" stroke="#000" stroke-width="1.10" stroke-opacity="0.35" stroke-linecap="round"/>
<path d="M1840,150C1845.3,157.3 1851.7,163.9 1856,172C1860.5,180.5 1863.6,191.4 1866,200C1868,207.1 1868.7,213.3 1870,220C1871.3,226.7 1872.7,232.9 1874,240C1875.4,247.9 1876.7,256.7 1878,265C1879.3,273.3 1880.7,281.7 1882,290C1883.3,298.3 1884.7,306.7 1886,315C1887.3,323.3 1888.7,331.3 1890,340C1891.4,349.5 1892.7,360 1894,370C1895.3,380 1896.7,390 1898,400C1899.3,410 1900.7,420 1902,430C1903.3,440 1904.6,449.6 1906,460C1907.5,471.2 1909.3,483.3 1911,495C1912.7,506.7 1914.2,518.3 1916,530C1917.8,541.7 1920,553.3 1922,565C1924,576.7 1925.8,588.3 1928,600C1930.2,611.7 1932.7,623.3 1935,635C1937.3,646.7 1939.2,658.8 1942,670C1944.6,680.4 1948,690 1951,700C1954,710 1956.4,720.9 1960,730C1963.2,738.2 1967.3,745 1971,752.5C1974.7,760 1976.7,767.5 1982,775C1988.7,784.4 2000.7,793.7 2010,803" fill="none" stroke="#000" stroke-width="1.30" stroke-linejoin="round" stroke-linecap="round" stroke-opacity="0.60"/>
<path d="M1261,977.5C1274.3,977.5 1287.6,977.5 1300.9,977.5C1314.2,977.5 1327.5,977.5 1340.8,977.5C1354.1,977.5 1367.4,977.5 1380.7,977.5C1394,977.5 1407.3,977.5 1420.6,977.5C1433.9,977.5 1447.2,977.5 1460.5,977.5C1473.8,977.5 1487.2,977.5 1500.5,977.5C1513.8,977.5 1527.1,977.5 1540.4,977.5C1553.7,977.5 1567,977.5 1580.3,977.5C1593.6,977.5 1606.9,977.5 1620.2,977.5C1633.5,977.5 1646.8,977.5 1660.1,977.5C1673.4,977.5 1687.4,977.5 1700,977.5C1711.3,977.5 1721.3,977.5 1732,977.5C1742.7,977.5 1753.3,977.5 1764,977.5C1774.7,977.5 1785.3,977.5 1796,977.5C1806.7,977.5 1817.3,977.5 1828,977.5C1838.7,977.5 1851.5,977.2 1860,977.5C1865.6,977.7 1869.8,977.3 1874,978.5C1877.7,979.6 1881.2,981.5 1884,984C1886.9,986.6 1889,990.1 1891,994C1893.4,998.6 1895.2,1003.8 1897,1010C1899.3,1018 1901.2,1029.3 1903,1038C1904.5,1045.5 1905.7,1052 1907.1,1059C1908.5,1066 1909.7,1072.1 1911.2,1080C1913.1,1090.2 1915.6,1103.3 1917.8,1115C1919.9,1126.7 1922.3,1138.7 1924.3,1150C1926.1,1160.4 1927.6,1170.2 1929.3,1180.2C1931,1190.3 1932.7,1200.9 1934.3,1210.5C1935.7,1219.3 1937,1227.3 1938.3,1235.8C1939.6,1244.2 1941.2,1252.3 1942.3,1261C1943.5,1270.3 1944.3,1280.3 1945.3,1290C1946.4,1299.7 1947,1309.6 1948.4,1319C1949.7,1327.9 1951.7,1336.3 1953.4,1345C1955.1,1353.7 1956.8,1361.7 1958.4,1371C1960.2,1381.7 1961.8,1394 1963.5,1405.5C1965.1,1417 1966.8,1430.1 1968.5,1440C1969.8,1447.6 1971.1,1453.3 1972.4,1460C1973.7,1466.7 1974.6,1472.3 1976.3,1480C1978.7,1490.5 1982.7,1504.8 1985.8,1517.2C1989,1529.7 1991.9,1543.2 1995.4,1554.5C1998.4,1564.2 2001.8,1572.2 2005,1581C2008.1,1589.8 2010.5,1598.4 2014.5,1607.5C2019.1,1617.7 2024.3,1631.4 2031.5,1639C2037.5,1645.3 2044.8,1649.5 2052.7,1652C2060.9,1654.7 2070.5,1653.6 2080,1654C2090.5,1654.5 2102,1654.3 2113,1654.5L2113,1660.5C2103.8,1660.5 2094.6,1660.5 2085.3,1660.5C2076.1,1660.5 2066.9,1660.5 2057.7,1660.5C2048.4,1660.5 2038.2,1661.1 2030,1660.5C2023.5,1660 2017.2,1661.3 2012.4,1658C2006.6,1654 2003.2,1642.4 1999.7,1635C1996.6,1628.5 1994.7,1622.3 1992.2,1616C1989.8,1609.7 1987.1,1603.9 1984.8,1597C1982.1,1589 1979.9,1579.3 1977.4,1570.5C1974.9,1561.7 1972.4,1553.3 1970,1544C1967.4,1533.9 1965,1522.7 1962.5,1512C1960,1501.3 1956.9,1489.4 1955,1480C1953.5,1472.6 1952.8,1466.7 1951.7,1460C1950.6,1453.3 1949.5,1447.6 1948.4,1440C1947,1430.1 1945.7,1417 1944.3,1405.5C1943,1394 1941.8,1381.7 1940.3,1371C1939,1361.7 1937.5,1353.7 1936.2,1345C1934.8,1336.3 1933,1327.3 1932,1319C1931,1311.4 1930.7,1304.3 1930,1297C1929.3,1289.7 1928.9,1282.7 1928,1275C1927,1266.4 1925.4,1256.9 1924.2,1247.8C1922.9,1238.7 1921.7,1229.9 1920.3,1220.6C1918.8,1210.8 1916.9,1200.4 1915.2,1190.3C1913.6,1180.2 1912.1,1169.8 1910.2,1160C1908.5,1150.8 1906.4,1142.2 1904.5,1133.3C1902.6,1124.4 1900.7,1115.6 1898.8,1106.7C1896.9,1097.8 1894.6,1088.8 1893.1,1080C1891.7,1071.6 1891.1,1063.3 1890,1055C1889,1046.7 1888.5,1038.7 1887,1030C1885.3,1020.4 1884.4,1007.3 1880,1000C1876.6,994.4 1871.9,990.6 1866,988C1859,984.9 1849.3,985.2 1840,984.5C1829.2,983.7 1816.7,984.2 1805,984C1793.3,983.8 1781.7,983.7 1770,983.5C1758.3,983.3 1746.7,983.2 1735,983C1723.3,982.8 1712,982.6 1700,982.5C1687.1,982.4 1673.4,982.5 1660.1,982.5C1646.8,982.5 1633.5,982.5 1620.2,982.5C1606.9,982.5 1593.6,982.5 1580.3,982.5C1567,982.5 1553.7,982.5 1540.4,982.5C1527.1,982.5 1513.8,982.5 1500.5,982.5C1487.2,982.5 1473.8,982.5 1460.5,982.5C1447.2,982.5 1433.9,982.5 1420.6,982.5C1407.3,982.5 1394,982.5 1380.7,982.5C1367.4,982.5 1354.1,982.5 1340.8,982.5C1327.5,982.5 1314.2,982.5 1300.9,982.5C1287.6,982.5 1274.3,982.5 1261,982.5Z" fill="#ffe360"/>
<path d="M1800,982.7C1810.3,983.8 1821.8,984 1831,986C1838.7,987.7 1845.3,989.7 1851.6,993C1857.6,996.1 1863.4,1000.6 1868,1005C1872.2,1009 1875.4,1013 1878.4,1018C1881.8,1023.7 1884.3,1031.2 1886.7,1038C1889.1,1044.9 1891.5,1053.6 1893,1059C1893.9,1062.3 1894.3,1064.3 1895,1067" fill="none" stroke="#ffe360" stroke-width="3.50" stroke-linejoin="round" stroke-linecap="round"/>
<path d="M1995,1560C1997.7,1568.3 2000.1,1576.9 2003,1585C2005.8,1592.9 2008.7,1600.7 2012,1608C2015.1,1615 2018.7,1621.3 2022,1628" fill="none" stroke="#000" stroke-width="1.30" stroke-linejoin="round" stroke-linecap="round" stroke-opacity="0.60"/>
<polygon points="1048.4,483.2 1274.4,483.2 1274.4,447.0 1347.0,520.1 1274.4,593.2 1274.4,557.0 1048.4,557.0" fill="#d9d9d9" />
<polygon points="1050.5,1339.7 1279.3,1339.7 1279.3,1302.4 1352.4,1375.8 1279.3,1448.7 1279.3,1412.0 1050.5,1412.0" fill="#d9d9d9" />
<text transform="translate(1028.54,395.40) scale(1.0231,1)" font-size="86.48" font-family="'Liberation Sans', sans-serif" fill="#fff">H&amp;N model</text>
<text transform="translate(1032.88,1251.10) scale(1.0233,1)" font-size="83.58" font-family="'Liberation Sans', sans-serif" fill="#fff">Pelvis model</text>
<text transform="translate(908.21,1852.90) scale(0.9862,1)" font-size="65.41" font-family="'Liberation Sans', sans-serif" fill="#fff">Relative Dose (%)</text>
<text transform="translate(88.75,1192.92) rotate(-90) scale(0.9987,1)" font-size="66.13" font-family="'Liberation Sans', sans-serif" fill="#fff">Relative Volume (%)</text>
</g>
</svg>
</body></html>
